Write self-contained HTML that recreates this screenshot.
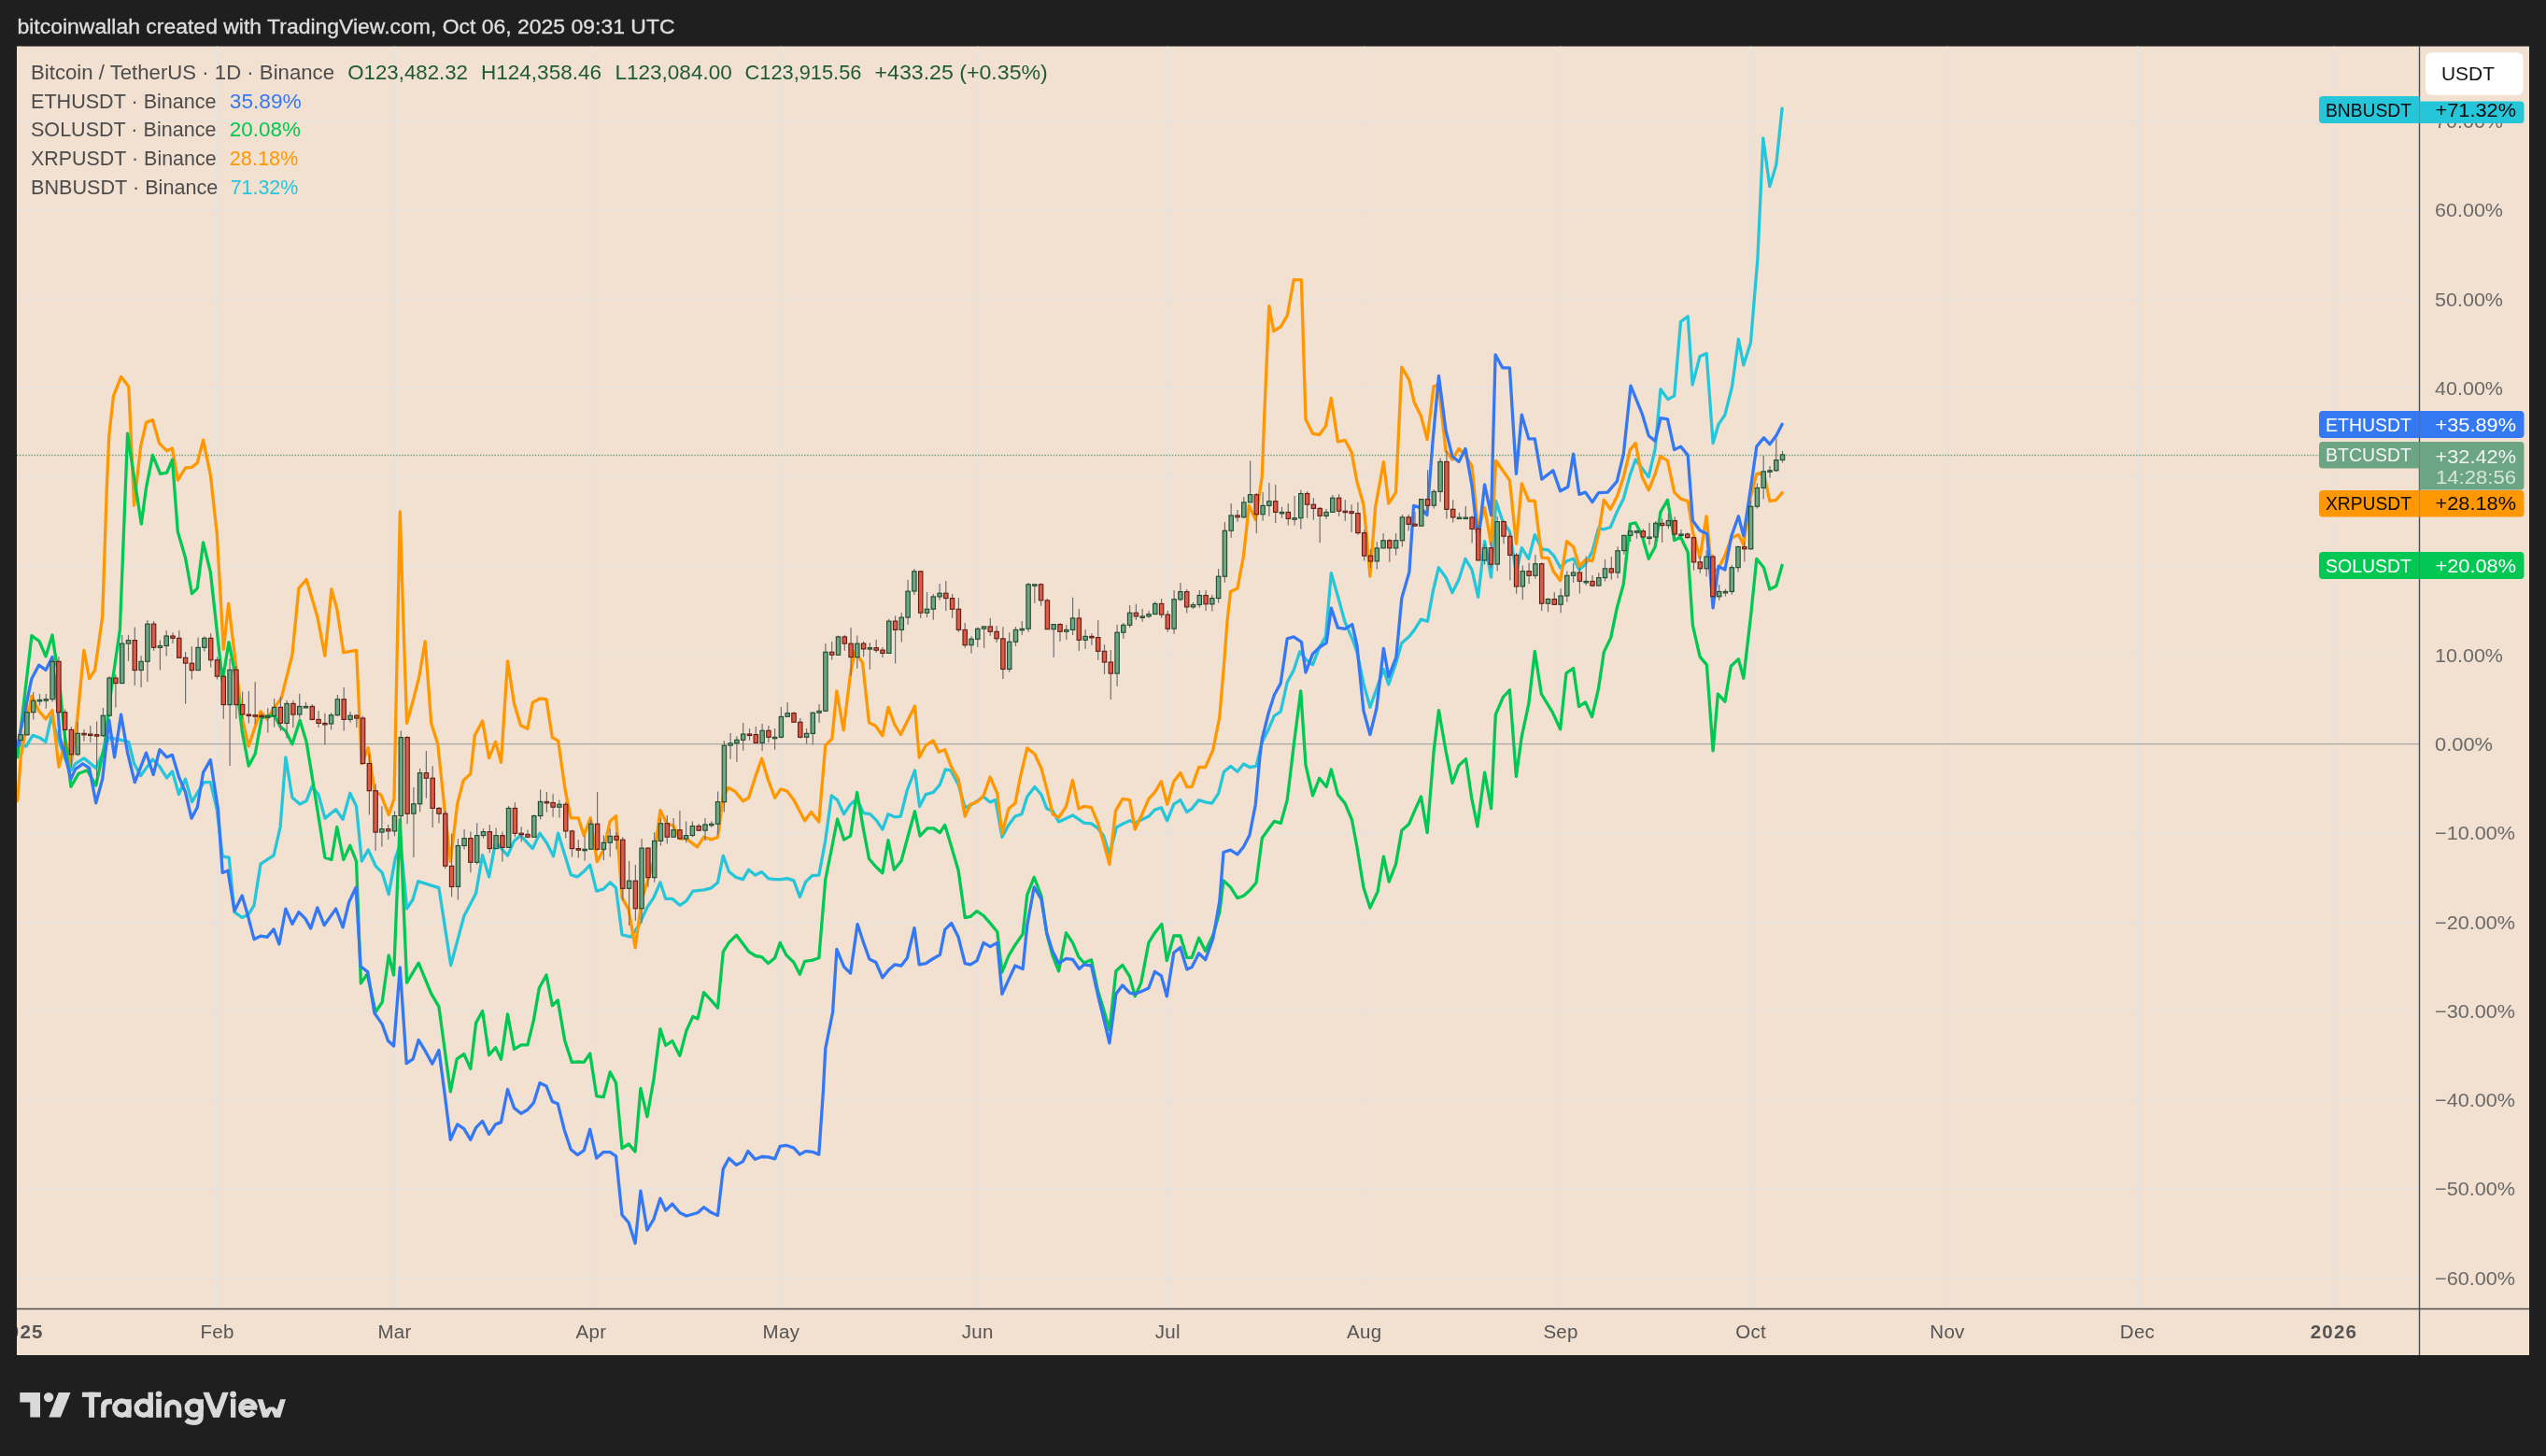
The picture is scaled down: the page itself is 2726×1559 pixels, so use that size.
<!DOCTYPE html><html><head><meta charset="utf-8"><style>
html,body{margin:0;padding:0;background:#1f1f1f;}
body{width:2726px;height:1559px;overflow:hidden;position:relative;font-family:"Liberation Sans", sans-serif;}
svg{position:absolute;left:0;top:0;will-change:transform;}
</style></head><body>
<svg width="2726" height="1559" viewBox="0 0 2726 1559" font-family='"Liberation Sans", sans-serif'>
<rect x="0" y="0" width="2726" height="1559" fill="#1f1f1f"/>
<text x="18.5" y="36.2" font-size="22.7" fill="#dedede" stroke="#dedede" stroke-width="0.35" textLength="704" lengthAdjust="spacingAndGlyphs">bitcoinwallah created with TradingView.com, Oct 06, 2025 09:31 UTC</text>
<rect x="18" y="49.6" width="2690" height="1401.4" fill="#f2e0d0"/>
<defs><clipPath id="cp"><rect x="18" y="49" width="2572.5" height="1352.5"/></clipPath><clipPath id="cpx"><rect x="18" y="1401" width="2572.5" height="50"/></clipPath></defs>
<g stroke="#e4e3e1" stroke-width="1.1" clip-path="url(#cp)"><line x1="21.4" y1="49.6" x2="21.4" y2="1401.5" /><line x1="232.5" y1="49.6" x2="232.5" y2="1401.5" /><line x1="422.5" y1="49.6" x2="422.5" y2="1401.5" /><line x1="632.9" y1="49.6" x2="632.9" y2="1401.5" /><line x1="836.4" y1="49.6" x2="836.4" y2="1401.5" /><line x1="1046.8" y1="49.6" x2="1046.8" y2="1401.5" /><line x1="1250.3" y1="49.6" x2="1250.3" y2="1401.5" /><line x1="1460.7" y1="49.6" x2="1460.7" y2="1401.5" /><line x1="1671.1" y1="49.6" x2="1671.1" y2="1401.5" /><line x1="1874.6" y1="49.6" x2="1874.6" y2="1401.5" /><line x1="2085.0" y1="49.6" x2="2085.0" y2="1401.5" /><line x1="2288.5" y1="49.6" x2="2288.5" y2="1401.5" /><line x1="2498.9" y1="49.6" x2="2498.9" y2="1401.5" /><line x1="18" y1="1368.4" x2="2590.5" y2="1368.4" /><line x1="18" y1="1273.1" x2="2590.5" y2="1273.1" /><line x1="18" y1="1177.8" x2="2590.5" y2="1177.8" /><line x1="18" y1="1082.5" x2="2590.5" y2="1082.5" /><line x1="18" y1="987.2" x2="2590.5" y2="987.2" /><line x1="18" y1="891.9" x2="2590.5" y2="891.9" /><line x1="18" y1="701.3" x2="2590.5" y2="701.3" /><line x1="18" y1="606.0" x2="2590.5" y2="606.0" /><line x1="18" y1="510.7" x2="2590.5" y2="510.7" /><line x1="18" y1="415.4" x2="2590.5" y2="415.4" /><line x1="18" y1="320.1" x2="2590.5" y2="320.1" /><line x1="18" y1="224.8" x2="2590.5" y2="224.8" /><line x1="18" y1="129.5" x2="2590.5" y2="129.5" /></g>
<line x1="18" y1="796.6" x2="2590.5" y2="796.6" stroke="#a9a6a3" stroke-width="1.3"/>
<line x1="18" y1="487.4" x2="2590.5" y2="487.4" stroke="#5f9c76" stroke-width="1.5" stroke-dasharray="1.3 1.8"/>
<g clip-path="url(#cp)">
<polyline points="18.7,796.8 28.0,799.1 35.0,787.4 42.0,789.7 49.0,794.4 54.9,767.6 64.2,796.8 70.1,813.1 75.9,824.8 80.6,817.8 89.9,811.9 102.7,822.4 109.7,807.3 116.8,789.7 137.8,794.4 143.6,817.8 150.6,830.6 163.5,813.1 170.5,820.1 178.6,832.9 184.5,825.9 191.5,850.5 198.5,834.1 205.5,858.6 218.3,837.6 225.3,837.6 232.3,866.8 238.2,917.0 245.2,918.2 251.0,976.6 259.2,982.4 266.2,978.9 272.0,969.6 279.0,925.2 293.1,915.8 300.1,885.5 305.9,810.8 312.9,854.0 321.1,861.0 328.1,857.5 333.9,842.3 340.9,850.5 347.9,876.1 359.6,866.8 367.1,877.3 374.8,849.3 381.5,863.2 387.3,922.1 394.3,909.9 402.2,927.3 409.2,934.3 416.2,957.6 423.2,919.1 429.0,902.7 435.6,972.8 441.9,963.5 447.7,943.6 469.9,950.6 482.7,1033.5 496.8,981.0 509.6,956.5 516.6,915.6 523.6,938.9 530.6,901.6 543.5,916.1 550.5,900.4 557.5,894.6 570.3,908.6 578.0,892.2 585.5,902.7 592.5,916.8 597.6,892.2 611.2,936.6 618.2,938.9 625.2,933.1 631.7,926.1 638.7,954.1 646.2,951.8 653.2,944.8 659.5,950.6 666.0,1000.8 675.4,1003.2 683.6,991.5 692.9,971.6 699.9,961.1 706.9,944.8 712.7,962.3 719.8,962.3 727.9,969.3 734.9,964.6 741.9,954.1 753.6,952.9 761.5,950.8 768.5,945.0 774.3,916.4 780.5,933.3 788.0,939.4 795.5,941.7 801.6,931.2 808.6,937.1 815.6,933.6 822.6,940.6 829.6,941.7 835.9,941.7 842.9,940.6 849.9,942.9 856.4,960.4 862.7,944.1 869.7,937.5 876.8,937.1 883.8,899.7 890.3,851.9 896.6,856.6 903.6,871.7 910.6,861.2 917.6,855.4 924.6,870.6 931.6,871.7 938.6,878.7 944.9,888.1 951.0,871.7 958.0,874.8 964.3,874.1 971.3,846.0 979.5,825.0 984.6,863.6 991.2,850.7 999.3,848.4 1006.4,840.2 1012.2,823.9 1018.0,825.0 1026.2,840.2 1033.2,864.7 1039.0,862.4 1053.1,853.1 1060.1,858.9 1065.9,856.6 1072.9,896.3 1079.9,883.4 1086.9,874.1 1093.9,871.7 1099.8,853.1 1107.9,842.5 1114.9,850.7 1120.8,865.9 1127.1,868.2 1133.6,879.9 1141.2,876.4 1148.5,872.9 1160.7,881.1 1168.5,881.8 1175.5,886.9 1181.6,895.0 1187.9,914.9 1195.5,885.7 1201.9,882.2 1209.6,878.7 1215.2,881.1 1222.9,877.6 1229.9,874.1 1236.4,867.1 1243.4,864.7 1249.7,878.7 1256.8,861.2 1263.8,856.6 1270.8,869.4 1276.1,865.9 1283.6,856.6 1290.6,858.9 1297.6,860.1 1304.6,849.6 1310.5,826.2 1317.9,820.4 1324.9,826.2 1331.5,818.0 1338.0,821.5 1345.0,820.4 1351.3,794.7 1358.3,780.7 1364.2,766.7 1371.2,762.0 1378.2,730.5 1385.2,717.6 1391.7,697.8 1398.0,705.9 1405.5,711.8 1412.7,693.1 1419.5,681.4 1425.3,613.7 1432.4,638.2 1440.1,666.2 1447.8,683.8 1452.9,697.8 1459.9,731.6 1466.9,757.3 1473.9,737.5 1481.4,716.5 1486.8,732.8 1494.9,709.4 1500.8,688.4 1508.9,681.4 1514.1,674.9 1521.5,663.2 1528.5,665.2 1534.0,634.5 1540.3,607.8 1548.0,618.2 1555.0,634.5 1562.0,620.5 1569.0,598.3 1576.0,610.0 1582.6,639.2 1589.6,579.6 1596.6,618.2 1601.7,536.5 1608.7,557.5 1616.4,569.1 1623.4,613.5 1629.3,586.7 1636.8,598.3 1643.3,572.6 1650.8,587.8 1657.8,589.0 1663.6,594.8 1670.6,607.7 1677.6,600.7 1684.6,598.3 1690.9,610.0 1697.5,604.2 1704.9,590.2 1711.5,565.6 1717.3,566.8 1724.3,564.5 1731.3,548.1 1738.3,534.1 1745.3,508.4 1751.2,492.1 1758.2,501.4 1765.2,510.8 1772.2,480.4 1778.0,416.6 1785.8,427.6 1792.7,423.9 1799.5,344.5 1807.2,338.7 1812.1,411.9 1820.1,381.5 1827.1,378.4 1834.1,474.6 1839.9,454.7 1846.9,444.2 1854.5,414.2 1861.4,363.2 1866.8,390.9 1874.5,366.7 1878.4,318.8 1881.9,276.8 1887.8,147.9 1894.8,199.7 1901.8,176.4 1908.1,116.2" fill="none" stroke="#26c6da" stroke-width="3.3" stroke-linejoin="round" stroke-linecap="round"/>
<polyline points="18.7,857.5 22.2,810.8 33.9,745.4 42.0,761.7 49.0,769.9 56.0,760.6 63.0,821.3 70.1,792.1 75.9,820.1 82.9,768.7 89.9,696.4 95.7,726.7 101.6,717.4 109.7,660.2 114.4,520.1 116.8,466.4 121.4,424.4 129.6,403.4 137.8,413.9 143.6,541.1 150.6,478.1 156.5,452.4 163.5,449.6 170.5,474.6 178.6,482.7 184.5,479.9 190.3,514.3 198.5,501.0 205.5,500.3 211.3,495.6 217.6,471.1 225.3,508.4 232.3,571.5 239.3,695.2 244.7,646.2 259.2,768.7 266.2,799.1 273.2,778.1 279.0,761.7 286.0,769.9 294.2,757.1 301.2,747.7 312.9,701.0 319.9,629.9 328.1,620.5 339.8,660.2 347.9,702.2 354.9,631.0 360.8,652.0 367.8,698.7 381.6,696.3 387.2,817.6 394.3,800.7 401.0,846.7 408.0,851.4 416.2,872.4 422.0,854.9 428.3,547.9 431.8,663.5 435.6,774.4 443.0,747.5 448.9,724.2 455.2,686.8 461.7,774.4 468.7,796.6 475.7,863.0 482.3,922.6 489.7,860.7 496.2,835.6 503.8,828.6 508.4,787.2 516.6,772.0 523.6,811.7 530.6,794.2 536.5,816.4 543.5,707.8 550.5,753.4 557.5,776.7 564.9,780.2 570.3,752.2 578.0,748.0 585.0,748.7 591.3,789.6 597.6,793.1 605.3,846.7 611.2,875.9 619.3,875.9 625.2,894.6 632.2,875.9 639.2,922.6 646.2,909.7 653.2,879.4 659.5,873.6 666.0,961.1 673.1,974.0 680.1,1014.8 687.1,963.5 692.9,944.8 699.9,921.4 706.9,867.7 713.9,881.7 720.9,884.1 727.9,898.1 734.9,898.1 746.6,906.9 753.6,896.2 761.5,898.9 768.5,896.6 774.3,852.8 779.9,843.5 786.9,847.2 795.5,857.7 801.6,854.2 809.0,830.9 815.6,812.2 821.9,833.2 829.6,854.2 835.9,844.9 842.9,847.2 849.9,856.6 861.6,878.7 868.6,869.4 876.8,879.9 883.8,798.2 890.8,791.2 895.9,739.8 903.1,781.8 910.6,721.1 915.3,697.8 923.5,709.4 930.5,773.7 937.5,777.2 944.9,787.7 951.0,757.3 958.0,776.0 964.3,786.5 979.5,756.1 984.2,811.0 991.2,798.2 999.3,793.0 1005.2,805.2 1011.7,802.8 1018.7,821.5 1026.2,834.4 1033.2,874.1 1039.0,861.2 1046.0,858.9 1053.1,851.9 1060.1,832.0 1067.8,849.6 1072.9,892.7 1079.9,865.9 1086.9,860.1 1092.7,830.9 1099.8,801.0 1107.9,807.5 1114.9,822.7 1120.8,844.9 1127.1,871.7 1133.6,875.2 1141.5,863.6 1148.5,835.5 1154.9,865.9 1160.7,863.3 1168.5,864.7 1175.5,881.1 1181.6,902.0 1187.9,925.4 1194.5,868.2 1201.9,855.4 1209.6,856.6 1215.2,888.1 1222.9,871.7 1229.9,855.4 1236.4,848.4 1243.4,836.7 1249.7,861.2 1256.8,836.7 1263.8,827.4 1270.8,842.5 1276.1,842.5 1283.6,821.5 1290.6,821.5 1298.8,802.8 1305.8,767.8 1310.5,711.8 1314.0,665.1 1317.5,633.6 1324.9,630.1 1331.5,595.0 1337.3,541.4 1344.3,556.6 1351.3,509.9 1353.7,446.8 1358.8,327.7 1363.7,354.6 1371.2,349.9 1378.2,338.2 1385.2,299.7 1393.4,299.7 1398.0,449.1 1405.5,464.3 1412.7,465.5 1419.5,456.1 1425.3,426.3 1432.4,473.0 1440.1,471.3 1447.1,484.2 1452.9,515.7 1459.9,540.2 1463.4,575.2 1466.9,617.2 1472.7,542.5 1481.4,494.7 1486.8,539.0 1494.5,527.4 1500.8,393.1 1508.9,407.1 1514.1,430.5 1521.5,445.5 1528.1,470.6 1535.0,413.8 1540.3,411.7 1548.0,482.7 1555.0,492.1 1562.0,480.4 1569.0,487.4 1576.0,499.1 1582.6,568.0 1589.6,543.5 1596.6,583.2 1601.7,493.3 1616.4,514.3 1623.4,582.0 1629.3,517.8 1636.8,536.0 1643.3,536.5 1650.8,597.2 1657.8,597.6 1663.6,612.3 1670.6,621.7 1677.6,579.6 1684.6,585.5 1690.9,606.5 1697.5,599.5 1704.9,600.7 1711.5,571.5 1717.3,535.3 1724.3,545.3 1731.3,531.8 1738.3,510.8 1745.3,481.6 1751.2,474.6 1758.2,510.8 1765.2,524.8 1772.2,507.3 1778.0,488.6 1785.5,493.3 1792.7,527.1 1799.5,534.1 1807.2,536.5 1812.4,569.1 1820.1,597.2 1827.1,552.8 1832.9,613.5 1839.9,608.8 1846.9,594.8 1853.9,576.1 1861.4,572.6 1866.8,583.2 1874.5,531.8 1880.8,507.3 1888.5,506.1 1894.8,536.5 1901.8,535.3 1908.1,527.6" fill="none" stroke="#ff9800" stroke-width="3.3" stroke-linejoin="round" stroke-linecap="round"/>
<polyline points="18.7,810.8 33.9,680.6 42.0,686.5 49.0,702.8 56.0,680.0 63.0,726.7 70.1,794.4 75.9,842.3 84.1,828.3 93.4,824.8 102.7,841.1 112.1,796.8 119.1,738.4 128.4,674.2 136.6,464.1 138.9,480.4 151.3,561.0 156.5,522.4 163.5,487.4 171.6,507.3 178.6,506.1 184.5,492.1 190.3,569.1 198.5,597.2 205.5,635.7 211.3,629.9 217.6,580.8 225.3,612.3 238.2,729.0 245.0,687.6 252.2,724.4 259.2,782.7 266.2,820.1 273.2,807.3 280.2,768.7 287.2,766.4 294.2,766.4 300.1,778.1 305.9,782.7 312.9,796.8 321.1,771.1 328.1,794.4 332.7,822.4 340.9,873.8 347.9,918.2 354.9,920.5 360.8,885.5 367.8,920.5 374.8,905.3 381.5,922.1 386.4,1052.9 393.2,1042.9 402.2,1083.7 409.2,1073.2 416.2,1023.0 421.6,1044.0 428.3,877.1 435.6,1052.2 441.9,1041.7 448.2,1031.2 461.7,1063.9 469.9,1077.9 482.3,1168.9 489.2,1133.9 496.8,1128.6 503.8,1144.4 509.6,1095.4 516.6,1082.5 523.6,1129.8 530.6,1121.6 536.5,1134.2 543.5,1086.0 550.5,1123.4 558.1,1118.9 564.9,1118.9 571.5,1091.9 577.3,1058.0 585.0,1044.0 591.3,1076.7 597.2,1070.9 604.8,1114.6 612.3,1137.4 619.3,1136.8 625.2,1137.4 631.7,1128.1 638.7,1173.6 646.2,1174.7 653.2,1147.9 659.5,1159.5 666.0,1229.6 673.1,1224.9 680.1,1233.1 685.9,1165.4 692.9,1195.7 699.9,1156.0 706.9,1101.8 712.7,1119.3 719.8,1114.6 727.9,1130.4 734.9,1103.6 741.9,1088.4 747.1,1090.7 753.6,1062.7 761.5,1071.1 768.5,1079.3 774.3,1019.1 780.5,1009.2 788.5,1001.3 801.6,1018.8 809.0,1023.5 815.6,1024.6 822.6,1031.6 829.6,1025.8 835.2,1009.4 841.7,1022.3 849.9,1030.5 856.4,1043.3 861.6,1029.3 869.7,1028.1 876.8,1025.8 883.8,941.7 890.8,906.7 896.6,877.0 903.6,899.1 910.6,895.1 917.6,848.4 924.6,888.6 930.5,919.5 937.5,927.7 944.9,934.7 951.0,899.7 957.3,931.2 965.0,921.9 971.3,898.5 979.5,868.8 985.0,895.1 992.9,886.9 999.9,886.9 1006.4,891.6 1011.7,883.4 1018.7,906.7 1026.2,932.4 1033.2,982.6 1039.0,981.4 1046.0,975.6 1053.1,980.3 1060.1,988.4 1067.8,997.8 1072.9,1041.0 1079.9,1023.5 1086.9,1011.8 1095.1,1000.1 1099.8,958.1 1107.2,939.4 1114.9,959.2 1120.8,1000.1 1127.1,1023.5 1133.6,1039.8 1141.5,998.9 1148.5,1009.4 1154.9,1024.6 1160.7,1031.0 1168.5,1027.7 1175.5,1060.8 1181.6,1080.7 1187.9,1102.8 1194.9,1039.8 1201.9,1033.3 1209.6,1045.6 1215.2,1066.7 1221.7,1052.6 1229.9,1009.4 1236.4,998.9 1243.9,989.6 1249.3,1028.6 1256.8,1002.0 1263.8,1002.0 1270.8,1025.3 1276.1,1025.3 1283.6,1004.3 1290.6,1018.3 1298.8,1001.3 1305.8,976.8 1310.0,942.9 1317.5,949.9 1324.9,961.6 1331.5,959.2 1338.0,953.4 1345.0,945.2 1351.3,897.4 1358.3,887.5 1364.4,879.3 1371.4,881.3 1378.2,856.6 1385.2,798.2 1392.7,739.8 1398.0,819.2 1405.5,851.9 1412.7,833.2 1420.2,842.5 1425.3,823.9 1432.4,850.7 1440.1,860.1 1447.4,877.5 1452.9,906.7 1459.9,949.9 1466.9,972.1 1475.1,954.6 1481.4,917.2 1487.2,944.1 1494.5,925.4 1500.8,889.2 1508.7,882.2 1514.1,869.4 1521.5,852.9 1528.1,891.5 1535.2,803.8 1540.5,760.6 1548.0,803.8 1555.0,838.3 1562.0,819.6 1569.5,812.6 1575.6,854.0 1581.9,885.0 1589.6,827.1 1596.6,865.6 1601.3,765.2 1609.4,746.5 1616.4,738.8 1623.4,831.3 1629.3,788.6 1636.8,753.6 1643.3,697.5 1650.3,743.0 1662.4,762.9 1670.6,780.9 1676.9,720.9 1684.6,715.5 1690.5,756.6 1697.5,751.9 1704.5,767.6 1711.5,737.2 1717.3,698.1 1724.7,682.9 1731.3,650.9 1738.3,625.2 1745.3,561.0 1751.2,559.8 1758.2,573.8 1765.2,598.3 1772.2,585.5 1778.0,548.1 1785.5,535.3 1792.7,578.5 1799.5,575.0 1807.2,591.3 1812.4,669.6 1820.1,703.1 1827.4,711.9 1834.1,803.8 1839.4,743.0 1846.9,751.2 1853.3,713.3 1861.4,705.7 1866.8,726.2 1874.5,660.2 1880.8,598.3 1888.5,607.7 1894.8,631.0 1901.8,627.5 1908.1,605.3" fill="none" stroke="#00c853" stroke-width="3.3" stroke-linejoin="round" stroke-linecap="round"/>
<polyline points="18.7,799.1 33.9,726.7 41.6,712.2 49.0,717.4 56.0,703.4 61.2,750.1 64.2,789.7 70.1,810.8 75.9,834.1 80.6,823.6 88.7,817.8 95.7,822.4 102.7,859.8 109.7,834.1 116.8,771.1 122.6,810.8 129.6,765.2 136.6,806.1 144.3,837.6 156.5,806.1 164.2,829.4 170.9,802.6 178.6,810.8 184.5,808.4 191.5,831.8 198.5,848.1 205.0,876.1 211.3,864.5 217.6,827.1 225.3,813.6 233.5,866.8 238.2,934.5 244.0,932.2 251.0,975.4 259.2,959.0 265.0,978.9 272.0,1005.7 279.0,1002.2 286.0,1003.4 293.1,994.9 298.9,1011.0 305.9,973.1 312.9,989.4 319.9,976.6 326.9,983.6 332.7,994.1 339.8,971.9 347.2,990.6 359.6,973.1 367.1,992.9 373.6,966.0 381.1,950.2 386.1,1034.8 393.7,1040.6 401.0,1084.9 409.2,1096.6 415.6,1114.6 421.6,1119.9 428.3,1035.8 435.2,1138.6 442.2,1133.9 448.2,1113.5 455.5,1125.7 462.9,1139.1 469.9,1124.5 475.7,1167.7 482.3,1220.3 489.7,1203.9 496.8,1208.6 503.8,1220.3 509.6,1207.4 516.6,1200.4 523.6,1214.4 530.6,1203.9 536.5,1201.6 543.5,1166.5 550.5,1186.4 557.9,1192.2 564.9,1188.3 571.5,1180.6 578.0,1159.5 585.0,1163.0 591.3,1179.4 597.2,1181.7 604.2,1209.7 611.2,1230.8 618.2,1236.6 625.2,1231.9 631.7,1209.3 638.7,1240.1 646.2,1233.6 653.2,1233.6 659.5,1237.8 666.0,1300.8 673.1,1309.0 680.1,1331.2 685.9,1275.1 692.9,1317.2 699.9,1305.5 706.9,1283.3 712.7,1296.1 719.8,1289.1 727.9,1298.5 734.9,1302.0 747.1,1298.5 753.6,1292.6 761.5,1298.3 768.5,1301.4 774.3,1251.6 780.5,1240.2 788.5,1247.4 795.5,1243.6 800.9,1232.6 808.6,1241.3 815.6,1238.5 822.6,1238.9 829.6,1240.8 835.2,1227.3 841.7,1226.3 849.9,1229.1 856.4,1236.1 862.7,1232.6 869.7,1233.3 876.8,1236.1 881.4,1168.4 883.8,1122.8 891.6,1083.7 895.9,1016.5 903.6,1035.1 910.6,1042.1 918.1,989.6 924.6,1009.4 930.9,1027.0 937.9,1030.5 944.9,1046.8 951.5,1038.6 958.0,1032.8 965.0,1034.0 971.3,1025.8 979.0,993.6 984.2,1032.8 991.2,1031.6 998.2,1027.0 1006.4,1022.3 1011.7,995.4 1018.7,988.4 1026.2,1003.6 1033.2,1031.6 1039.0,1032.8 1046.0,1028.6 1053.1,1009.4 1060.1,1013.6 1067.8,1009.4 1072.9,1064.3 1079.9,1049.1 1086.9,1034.0 1095.1,1037.5 1099.8,990.8 1107.2,949.9 1114.9,962.7 1120.8,998.9 1127.1,1018.8 1133.6,1031.6 1141.5,1026.3 1148.5,1027.3 1155.5,1037.5 1160.7,1032.8 1168.5,1034.0 1175.5,1065.5 1181.6,1090.0 1187.9,1116.9 1194.9,1064.3 1201.9,1055.0 1209.6,1063.2 1215.2,1064.3 1222.9,1061.3 1229.9,1058.0 1236.4,1040.3 1243.4,1044.9 1249.3,1066.7 1256.8,1020.0 1263.8,1014.6 1270.8,1037.9 1276.1,1035.6 1283.6,1020.7 1290.6,1027.7 1298.8,1004.8 1305.8,965.1 1310.0,912.5 1317.5,910.2 1324.9,914.9 1331.5,906.7 1338.0,893.9 1344.3,861.2 1349.0,809.9 1351.3,791.2 1358.3,763.2 1364.2,744.5 1371.2,731.6 1378.2,683.8 1385.2,681.9 1393.4,687.3 1398.0,720.0 1405.5,700.1 1412.7,693.1 1420.2,688.4 1425.3,651.1 1432.4,672.1 1440.1,673.3 1447.8,668.6 1452.9,690.8 1459.9,760.8 1466.9,786.5 1473.9,758.5 1481.4,694.3 1486.8,724.6 1494.9,703.6 1500.8,640.6 1508.9,612.5 1513.6,541.4 1520.9,543.6 1527.9,551.5 1534.0,473.4 1540.5,402.5 1548.0,460.6 1555.0,488.6 1562.0,494.4 1569.0,480.4 1576.0,520.1 1582.6,580.8 1589.6,518.9 1596.6,551.6 1601.1,379.8 1608.7,393.8 1616.4,393.8 1623.4,507.3 1629.3,444.2 1636.8,469.9 1643.3,469.9 1650.8,513.1 1662.9,503.8 1670.6,525.9 1678.8,521.3 1684.6,486.2 1690.9,529.4 1697.5,527.1 1704.9,537.6 1711.5,527.6 1721.3,527.1 1731.3,515.4 1738.3,486.2 1746.0,413.1 1758.2,443.0 1765.2,466.4 1772.2,472.2 1778.0,447.7 1785.5,448.9 1792.7,481.6 1799.5,478.1 1807.2,487.4 1812.4,557.5 1820.1,568.0 1827.8,571.5 1834.1,650.9 1839.9,606.5 1846.9,610.0 1853.9,573.8 1861.4,552.8 1866.8,573.8 1874.5,522.4 1880.8,478.1 1888.5,468.7 1894.8,475.7 1901.8,466.4 1908.1,454.3" fill="none" stroke="#3478f5" stroke-width="3.3" stroke-linejoin="round" stroke-linecap="round"/>
<line x1="22.1" y1="780.3" x2="22.1" y2="796.7" stroke="#707070" stroke-width="1.2"/><rect x="19.9" y="786.7" width="4.4" height="6.0" fill="#6ea584" stroke="#1d4a2e" stroke-width="1.1"/><line x1="28.9" y1="753.5" x2="28.9" y2="787.4" stroke="#707070" stroke-width="1.2"/><rect x="26.7" y="762.7" width="4.4" height="24.1" fill="#6ea584" stroke="#1d4a2e" stroke-width="1.1"/><line x1="35.7" y1="741.1" x2="35.7" y2="770.5" stroke="#707070" stroke-width="1.2"/><rect x="33.5" y="750.3" width="4.4" height="12.4" fill="#6ea584" stroke="#1d4a2e" stroke-width="1.1"/><line x1="42.5" y1="743.1" x2="42.5" y2="755.5" stroke="#707070" stroke-width="1.2"/><rect x="40.3" y="749.4" width="4.4" height="1.5" fill="#6ea584" stroke="#1d4a2e" stroke-width="1.1"/><line x1="49.3" y1="743.1" x2="49.3" y2="758.7" stroke="#707070" stroke-width="1.2"/><rect x="47.1" y="748.7" width="4.4" height="1.5" fill="#6ea584" stroke="#1d4a2e" stroke-width="1.1"/><line x1="56.1" y1="704.6" x2="56.1" y2="751.6" stroke="#707070" stroke-width="1.2"/><rect x="53.9" y="708.3" width="4.4" height="40.4" fill="#6ea584" stroke="#1d4a2e" stroke-width="1.1"/><line x1="62.9" y1="703.3" x2="62.9" y2="769.2" stroke="#707070" stroke-width="1.2"/><rect x="60.7" y="708.3" width="4.4" height="54.4" fill="#dd5a45" stroke="#5e1c14" stroke-width="1.1"/><line x1="69.6" y1="759.4" x2="69.6" y2="806.4" stroke="#707070" stroke-width="1.2"/><rect x="67.4" y="762.7" width="4.4" height="18.7" fill="#dd5a45" stroke="#5e1c14" stroke-width="1.1"/><line x1="76.4" y1="778.3" x2="76.4" y2="821.4" stroke="#707070" stroke-width="1.2"/><rect x="74.2" y="781.4" width="4.4" height="26.4" fill="#dd5a45" stroke="#5e1c14" stroke-width="1.1"/><line x1="83.2" y1="773.1" x2="83.2" y2="809.6" stroke="#707070" stroke-width="1.2"/><rect x="81.0" y="785.3" width="4.4" height="22.4" fill="#6ea584" stroke="#1d4a2e" stroke-width="1.1"/><line x1="90.0" y1="780.9" x2="90.0" y2="793.7" stroke="#707070" stroke-width="1.2"/><rect x="87.8" y="785.3" width="4.4" height="1.5" fill="#dd5a45" stroke="#5e1c14" stroke-width="1.1"/><line x1="96.8" y1="777.0" x2="96.8" y2="795.0" stroke="#707070" stroke-width="1.2"/><rect x="94.6" y="786.0" width="4.4" height="1.5" fill="#dd5a45" stroke="#5e1c14" stroke-width="1.1"/><line x1="103.6" y1="772.4" x2="103.6" y2="839.6" stroke="#707070" stroke-width="1.2"/><rect x="101.4" y="786.7" width="4.4" height="1.5" fill="#dd5a45" stroke="#5e1c14" stroke-width="1.1"/><line x1="110.4" y1="758.1" x2="110.4" y2="788.7" stroke="#707070" stroke-width="1.2"/><rect x="108.2" y="766.2" width="4.4" height="21.5" fill="#6ea584" stroke="#1d4a2e" stroke-width="1.1"/><line x1="117.1" y1="724.1" x2="117.1" y2="767.2" stroke="#707070" stroke-width="1.2"/><rect x="114.9" y="726.0" width="4.4" height="40.2" fill="#6ea584" stroke="#1d4a2e" stroke-width="1.1"/><line x1="123.9" y1="722.2" x2="123.9" y2="757.4" stroke="#707070" stroke-width="1.2"/><rect x="121.7" y="726.0" width="4.4" height="5.6" fill="#dd5a45" stroke="#5e1c14" stroke-width="1.1"/><line x1="130.7" y1="680.1" x2="130.7" y2="731.6" stroke="#707070" stroke-width="1.2"/><rect x="128.5" y="689.1" width="4.4" height="42.5" fill="#6ea584" stroke="#1d4a2e" stroke-width="1.1"/><line x1="137.5" y1="679.8" x2="137.5" y2="707.8" stroke="#707070" stroke-width="1.2"/><rect x="135.3" y="685.6" width="4.4" height="3.5" fill="#6ea584" stroke="#1d4a2e" stroke-width="1.1"/><line x1="144.3" y1="671.6" x2="144.3" y2="733.9" stroke="#707070" stroke-width="1.2"/><rect x="142.1" y="685.6" width="4.4" height="32.0" fill="#dd5a45" stroke="#5e1c14" stroke-width="1.1"/><line x1="151.1" y1="702.3" x2="151.1" y2="735.9" stroke="#707070" stroke-width="1.2"/><rect x="148.9" y="708.3" width="4.4" height="9.3" fill="#6ea584" stroke="#1d4a2e" stroke-width="1.1"/><line x1="157.9" y1="664.1" x2="157.9" y2="730.0" stroke="#707070" stroke-width="1.2"/><rect x="155.7" y="668.1" width="4.4" height="40.2" fill="#6ea584" stroke="#1d4a2e" stroke-width="1.1"/><line x1="164.6" y1="665.1" x2="164.6" y2="696.7" stroke="#707070" stroke-width="1.2"/><rect x="162.4" y="668.1" width="4.4" height="25.2" fill="#dd5a45" stroke="#5e1c14" stroke-width="1.1"/><line x1="171.4" y1="685.5" x2="171.4" y2="717.6" stroke="#707070" stroke-width="1.2"/><rect x="169.2" y="691.5" width="4.4" height="1.9" fill="#6ea584" stroke="#1d4a2e" stroke-width="1.1"/><line x1="178.2" y1="675.0" x2="178.2" y2="702.6" stroke="#707070" stroke-width="1.2"/><rect x="176.0" y="681.0" width="4.4" height="10.5" fill="#6ea584" stroke="#1d4a2e" stroke-width="1.1"/><line x1="185.0" y1="677.2" x2="185.0" y2="688.9" stroke="#707070" stroke-width="1.2"/><rect x="182.8" y="681.0" width="4.4" height="2.3" fill="#dd5a45" stroke="#5e1c14" stroke-width="1.1"/><line x1="191.8" y1="675.2" x2="191.8" y2="704.6" stroke="#707070" stroke-width="1.2"/><rect x="189.6" y="683.3" width="4.4" height="21.0" fill="#dd5a45" stroke="#5e1c14" stroke-width="1.1"/><line x1="198.6" y1="698.1" x2="198.6" y2="753.5" stroke="#707070" stroke-width="1.2"/><rect x="196.4" y="704.3" width="4.4" height="5.8" fill="#dd5a45" stroke="#5e1c14" stroke-width="1.1"/><line x1="205.4" y1="692.2" x2="205.4" y2="727.4" stroke="#707070" stroke-width="1.2"/><rect x="203.2" y="710.2" width="4.4" height="7.5" fill="#dd5a45" stroke="#5e1c14" stroke-width="1.1"/><line x1="212.1" y1="682.4" x2="212.1" y2="717.6" stroke="#707070" stroke-width="1.2"/><rect x="209.9" y="693.3" width="4.4" height="24.3" fill="#6ea584" stroke="#1d4a2e" stroke-width="1.1"/><line x1="218.9" y1="681.3" x2="218.9" y2="697.4" stroke="#707070" stroke-width="1.2"/><rect x="216.7" y="683.3" width="4.4" height="10.0" fill="#6ea584" stroke="#1d4a2e" stroke-width="1.1"/><line x1="225.7" y1="678.3" x2="225.7" y2="714.4" stroke="#707070" stroke-width="1.2"/><rect x="223.5" y="683.3" width="4.4" height="23.4" fill="#dd5a45" stroke="#5e1c14" stroke-width="1.1"/><line x1="232.5" y1="703.3" x2="232.5" y2="727.4" stroke="#707070" stroke-width="1.2"/><rect x="230.3" y="706.7" width="4.4" height="17.5" fill="#dd5a45" stroke="#5e1c14" stroke-width="1.1"/><line x1="239.3" y1="716.3" x2="239.3" y2="769.8" stroke="#707070" stroke-width="1.2"/><rect x="237.1" y="724.2" width="4.4" height="30.4" fill="#dd5a45" stroke="#5e1c14" stroke-width="1.1"/><line x1="246.1" y1="705.2" x2="246.1" y2="820.1" stroke="#707070" stroke-width="1.2"/><rect x="243.9" y="717.2" width="4.4" height="37.4" fill="#6ea584" stroke="#1d4a2e" stroke-width="1.1"/><line x1="252.9" y1="713.1" x2="252.9" y2="769.8" stroke="#707070" stroke-width="1.2"/><rect x="250.7" y="717.2" width="4.4" height="37.4" fill="#dd5a45" stroke="#5e1c14" stroke-width="1.1"/><line x1="259.6" y1="740.5" x2="259.6" y2="769.8" stroke="#707070" stroke-width="1.2"/><rect x="257.4" y="754.5" width="4.4" height="10.5" fill="#dd5a45" stroke="#5e1c14" stroke-width="1.1"/><line x1="266.4" y1="740.1" x2="266.4" y2="774.6" stroke="#707070" stroke-width="1.2"/><rect x="264.2" y="765.0" width="4.4" height="1.5" fill="#dd5a45" stroke="#5e1c14" stroke-width="1.1"/><line x1="273.2" y1="730.3" x2="273.2" y2="775.2" stroke="#707070" stroke-width="1.2"/><rect x="271.0" y="765.7" width="4.4" height="1.5" fill="#dd5a45" stroke="#5e1c14" stroke-width="1.1"/><line x1="280.0" y1="763.5" x2="280.0" y2="775.2" stroke="#707070" stroke-width="1.2"/><rect x="277.8" y="766.2" width="4.4" height="1.5" fill="#dd5a45" stroke="#5e1c14" stroke-width="1.1"/><line x1="286.8" y1="758.3" x2="286.8" y2="784.4" stroke="#707070" stroke-width="1.2"/><rect x="284.6" y="766.7" width="4.4" height="1.5" fill="#6ea584" stroke="#1d4a2e" stroke-width="1.1"/><line x1="293.6" y1="747.9" x2="293.6" y2="778.5" stroke="#707070" stroke-width="1.2"/><rect x="291.4" y="757.3" width="4.4" height="9.3" fill="#6ea584" stroke="#1d4a2e" stroke-width="1.1"/><line x1="300.4" y1="745.9" x2="300.4" y2="782.4" stroke="#707070" stroke-width="1.2"/><rect x="298.2" y="757.3" width="4.4" height="17.0" fill="#dd5a45" stroke="#5e1c14" stroke-width="1.1"/><line x1="307.1" y1="749.8" x2="307.1" y2="790.2" stroke="#707070" stroke-width="1.2"/><rect x="304.9" y="753.4" width="4.4" height="21.0" fill="#6ea584" stroke="#1d4a2e" stroke-width="1.1"/><line x1="313.9" y1="749.8" x2="313.9" y2="779.1" stroke="#707070" stroke-width="1.2"/><rect x="311.7" y="753.4" width="4.4" height="11.7" fill="#dd5a45" stroke="#5e1c14" stroke-width="1.1"/><line x1="320.7" y1="742.7" x2="320.7" y2="768.7" stroke="#707070" stroke-width="1.2"/><rect x="318.5" y="756.4" width="4.4" height="8.6" fill="#6ea584" stroke="#1d4a2e" stroke-width="1.1"/><line x1="327.5" y1="751.8" x2="327.5" y2="758.3" stroke="#707070" stroke-width="1.2"/><rect x="325.3" y="756.4" width="4.4" height="1.5" fill="#6ea584" stroke="#1d4a2e" stroke-width="1.1"/><line x1="334.3" y1="754.1" x2="334.3" y2="771.3" stroke="#707070" stroke-width="1.2"/><rect x="332.1" y="756.4" width="4.4" height="14.0" fill="#dd5a45" stroke="#5e1c14" stroke-width="1.1"/><line x1="341.1" y1="760.9" x2="341.1" y2="779.1" stroke="#707070" stroke-width="1.2"/><rect x="338.9" y="770.4" width="4.4" height="4.0" fill="#dd5a45" stroke="#5e1c14" stroke-width="1.1"/><line x1="347.9" y1="763.8" x2="347.9" y2="797.4" stroke="#707070" stroke-width="1.2"/><rect x="345.7" y="774.4" width="4.4" height="1.5" fill="#dd5a45" stroke="#5e1c14" stroke-width="1.1"/><line x1="354.6" y1="762.9" x2="354.6" y2="781.5" stroke="#707070" stroke-width="1.2"/><rect x="352.4" y="765.7" width="4.4" height="9.3" fill="#6ea584" stroke="#1d4a2e" stroke-width="1.1"/><line x1="361.4" y1="744.0" x2="361.4" y2="766.7" stroke="#707070" stroke-width="1.2"/><rect x="359.2" y="748.7" width="4.4" height="17.0" fill="#6ea584" stroke="#1d4a2e" stroke-width="1.1"/><line x1="368.2" y1="736.1" x2="368.2" y2="782.4" stroke="#707070" stroke-width="1.2"/><rect x="366.0" y="748.7" width="4.4" height="21.7" fill="#dd5a45" stroke="#5e1c14" stroke-width="1.1"/><line x1="375.0" y1="762.0" x2="375.0" y2="773.7" stroke="#707070" stroke-width="1.2"/><rect x="372.8" y="766.2" width="4.4" height="4.2" fill="#6ea584" stroke="#1d4a2e" stroke-width="1.1"/><line x1="381.8" y1="764.8" x2="381.8" y2="779.1" stroke="#707070" stroke-width="1.2"/><rect x="379.6" y="766.2" width="4.4" height="2.8" fill="#dd5a45" stroke="#5e1c14" stroke-width="1.1"/><line x1="388.6" y1="766.8" x2="388.6" y2="818.3" stroke="#707070" stroke-width="1.2"/><rect x="386.4" y="769.0" width="4.4" height="48.5" fill="#dd5a45" stroke="#5e1c14" stroke-width="1.1"/><line x1="395.4" y1="807.2" x2="395.4" y2="872.4" stroke="#707070" stroke-width="1.2"/><rect x="393.2" y="817.5" width="4.4" height="29.2" fill="#dd5a45" stroke="#5e1c14" stroke-width="1.1"/><line x1="402.1" y1="839.2" x2="402.1" y2="910.9" stroke="#707070" stroke-width="1.2"/><rect x="399.9" y="846.7" width="4.4" height="44.4" fill="#dd5a45" stroke="#5e1c14" stroke-width="1.1"/><line x1="408.9" y1="863.3" x2="408.9" y2="906.4" stroke="#707070" stroke-width="1.2"/><rect x="406.7" y="887.6" width="4.4" height="3.5" fill="#6ea584" stroke="#1d4a2e" stroke-width="1.1"/><line x1="415.7" y1="882.9" x2="415.7" y2="898.9" stroke="#707070" stroke-width="1.2"/><rect x="413.5" y="887.6" width="4.4" height="2.3" fill="#dd5a45" stroke="#5e1c14" stroke-width="1.1"/><line x1="422.5" y1="868.5" x2="422.5" y2="895.3" stroke="#707070" stroke-width="1.2"/><rect x="420.3" y="873.6" width="4.4" height="16.3" fill="#6ea584" stroke="#1d4a2e" stroke-width="1.1"/><line x1="429.3" y1="782.4" x2="429.3" y2="882.2" stroke="#707070" stroke-width="1.2"/><rect x="427.1" y="789.6" width="4.4" height="84.0" fill="#6ea584" stroke="#1d4a2e" stroke-width="1.1"/><line x1="436.1" y1="788.3" x2="436.1" y2="882.2" stroke="#707070" stroke-width="1.2"/><rect x="433.9" y="789.6" width="4.4" height="81.7" fill="#dd5a45" stroke="#5e1c14" stroke-width="1.1"/><line x1="442.9" y1="843.1" x2="442.9" y2="918.1" stroke="#707070" stroke-width="1.2"/><rect x="440.7" y="860.7" width="4.4" height="10.5" fill="#6ea584" stroke="#1d4a2e" stroke-width="1.1"/><line x1="449.6" y1="822.9" x2="449.6" y2="869.2" stroke="#707070" stroke-width="1.2"/><rect x="447.4" y="827.6" width="4.4" height="33.2" fill="#6ea584" stroke="#1d4a2e" stroke-width="1.1"/><line x1="456.4" y1="803.9" x2="456.4" y2="854.8" stroke="#707070" stroke-width="1.2"/><rect x="454.2" y="827.6" width="4.4" height="5.6" fill="#dd5a45" stroke="#5e1c14" stroke-width="1.1"/><line x1="463.2" y1="820.2" x2="463.2" y2="886.1" stroke="#707070" stroke-width="1.2"/><rect x="461.0" y="833.2" width="4.4" height="32.2" fill="#dd5a45" stroke="#5e1c14" stroke-width="1.1"/><line x1="470.0" y1="864.0" x2="470.0" y2="881.6" stroke="#707070" stroke-width="1.2"/><rect x="467.8" y="865.4" width="4.4" height="5.8" fill="#dd5a45" stroke="#5e1c14" stroke-width="1.1"/><line x1="476.8" y1="868.5" x2="476.8" y2="930.3" stroke="#707070" stroke-width="1.2"/><rect x="474.6" y="871.2" width="4.4" height="56.0" fill="#dd5a45" stroke="#5e1c14" stroke-width="1.1"/><line x1="483.6" y1="892.7" x2="483.6" y2="960.4" stroke="#707070" stroke-width="1.2"/><rect x="481.4" y="927.3" width="4.4" height="22.2" fill="#dd5a45" stroke="#5e1c14" stroke-width="1.1"/><line x1="490.4" y1="897.9" x2="490.4" y2="963.4" stroke="#707070" stroke-width="1.2"/><rect x="488.2" y="905.5" width="4.4" height="43.9" fill="#6ea584" stroke="#1d4a2e" stroke-width="1.1"/><line x1="497.1" y1="888.1" x2="497.1" y2="909.5" stroke="#707070" stroke-width="1.2"/><rect x="494.9" y="897.6" width="4.4" height="7.9" fill="#6ea584" stroke="#1d4a2e" stroke-width="1.1"/><line x1="503.9" y1="890.5" x2="503.9" y2="934.2" stroke="#707070" stroke-width="1.2"/><rect x="501.7" y="897.6" width="4.4" height="25.7" fill="#dd5a45" stroke="#5e1c14" stroke-width="1.1"/><line x1="510.7" y1="881.3" x2="510.7" y2="925.7" stroke="#707070" stroke-width="1.2"/><rect x="508.5" y="894.6" width="4.4" height="28.7" fill="#6ea584" stroke="#1d4a2e" stroke-width="1.1"/><line x1="517.5" y1="887.2" x2="517.5" y2="897.6" stroke="#707070" stroke-width="1.2"/><rect x="515.3" y="890.6" width="4.4" height="4.0" fill="#6ea584" stroke="#1d4a2e" stroke-width="1.1"/><line x1="524.3" y1="883.3" x2="524.3" y2="913.3" stroke="#707070" stroke-width="1.2"/><rect x="522.1" y="890.6" width="4.4" height="18.0" fill="#dd5a45" stroke="#5e1c14" stroke-width="1.1"/><line x1="531.1" y1="886.6" x2="531.1" y2="908.6" stroke="#707070" stroke-width="1.2"/><rect x="528.9" y="894.6" width="4.4" height="14.0" fill="#6ea584" stroke="#1d4a2e" stroke-width="1.1"/><line x1="537.9" y1="890.6" x2="537.9" y2="922.4" stroke="#707070" stroke-width="1.2"/><rect x="535.7" y="894.6" width="4.4" height="12.8" fill="#dd5a45" stroke="#5e1c14" stroke-width="1.1"/><line x1="544.6" y1="863.1" x2="544.6" y2="907.4" stroke="#707070" stroke-width="1.2"/><rect x="542.4" y="865.4" width="4.4" height="42.0" fill="#6ea584" stroke="#1d4a2e" stroke-width="1.1"/><line x1="551.4" y1="859.2" x2="551.4" y2="896.3" stroke="#707070" stroke-width="1.2"/><rect x="549.2" y="865.4" width="4.4" height="26.9" fill="#dd5a45" stroke="#5e1c14" stroke-width="1.1"/><line x1="558.2" y1="885.3" x2="558.2" y2="901.6" stroke="#707070" stroke-width="1.2"/><rect x="556.0" y="892.2" width="4.4" height="1.5" fill="#dd5a45" stroke="#5e1c14" stroke-width="1.1"/><line x1="565.0" y1="888.5" x2="565.0" y2="897.6" stroke="#707070" stroke-width="1.2"/><rect x="562.8" y="893.4" width="4.4" height="2.8" fill="#dd5a45" stroke="#5e1c14" stroke-width="1.1"/><line x1="571.8" y1="872.2" x2="571.8" y2="896.3" stroke="#707070" stroke-width="1.2"/><rect x="569.6" y="873.6" width="4.4" height="22.7" fill="#6ea584" stroke="#1d4a2e" stroke-width="1.1"/><line x1="578.6" y1="845.5" x2="578.6" y2="877.4" stroke="#707070" stroke-width="1.2"/><rect x="576.4" y="858.4" width="4.4" height="15.2" fill="#6ea584" stroke="#1d4a2e" stroke-width="1.1"/><line x1="585.4" y1="848.1" x2="585.4" y2="869.6" stroke="#707070" stroke-width="1.2"/><rect x="583.2" y="858.4" width="4.4" height="1.5" fill="#dd5a45" stroke="#5e1c14" stroke-width="1.1"/><line x1="592.1" y1="850.3" x2="592.1" y2="874.8" stroke="#707070" stroke-width="1.2"/><rect x="589.9" y="859.5" width="4.4" height="4.7" fill="#dd5a45" stroke="#5e1c14" stroke-width="1.1"/><line x1="598.9" y1="856.5" x2="598.9" y2="875.5" stroke="#707070" stroke-width="1.2"/><rect x="596.7" y="861.2" width="4.4" height="3.0" fill="#6ea584" stroke="#1d4a2e" stroke-width="1.1"/><line x1="605.7" y1="858.5" x2="605.7" y2="897.6" stroke="#707070" stroke-width="1.2"/><rect x="603.5" y="861.2" width="4.4" height="28.7" fill="#dd5a45" stroke="#5e1c14" stroke-width="1.1"/><line x1="612.5" y1="888.5" x2="612.5" y2="917.6" stroke="#707070" stroke-width="1.2"/><rect x="610.3" y="889.9" width="4.4" height="18.7" fill="#dd5a45" stroke="#5e1c14" stroke-width="1.1"/><line x1="619.3" y1="899.3" x2="619.3" y2="918.5" stroke="#707070" stroke-width="1.2"/><rect x="617.1" y="908.6" width="4.4" height="1.6" fill="#dd5a45" stroke="#5e1c14" stroke-width="1.1"/><line x1="626.1" y1="894.4" x2="626.1" y2="921.8" stroke="#707070" stroke-width="1.2"/><rect x="623.9" y="909.3" width="4.4" height="1.5" fill="#6ea584" stroke="#1d4a2e" stroke-width="1.1"/><line x1="632.9" y1="878.1" x2="632.9" y2="909.4" stroke="#707070" stroke-width="1.2"/><rect x="630.7" y="882.2" width="4.4" height="27.1" fill="#6ea584" stroke="#1d4a2e" stroke-width="1.1"/><line x1="639.6" y1="848.1" x2="639.6" y2="910.7" stroke="#707070" stroke-width="1.2"/><rect x="637.4" y="882.2" width="4.4" height="27.1" fill="#dd5a45" stroke="#5e1c14" stroke-width="1.1"/><line x1="646.4" y1="894.4" x2="646.4" y2="921.1" stroke="#707070" stroke-width="1.2"/><rect x="644.2" y="902.3" width="4.4" height="7.0" fill="#6ea584" stroke="#1d4a2e" stroke-width="1.1"/><line x1="653.2" y1="887.2" x2="653.2" y2="917.6" stroke="#707070" stroke-width="1.2"/><rect x="651.0" y="895.3" width="4.4" height="7.0" fill="#6ea584" stroke="#1d4a2e" stroke-width="1.1"/><line x1="660.0" y1="891.1" x2="660.0" y2="909.4" stroke="#707070" stroke-width="1.2"/><rect x="657.8" y="895.3" width="4.4" height="4.0" fill="#dd5a45" stroke="#5e1c14" stroke-width="1.1"/><line x1="666.8" y1="896.3" x2="666.8" y2="963.8" stroke="#707070" stroke-width="1.2"/><rect x="664.6" y="899.2" width="4.4" height="52.1" fill="#dd5a45" stroke="#5e1c14" stroke-width="1.1"/><line x1="673.6" y1="922.1" x2="673.6" y2="991.0" stroke="#707070" stroke-width="1.2"/><rect x="671.4" y="943.1" width="4.4" height="8.2" fill="#6ea584" stroke="#1d4a2e" stroke-width="1.1"/><line x1="680.4" y1="926.0" x2="680.4" y2="986.0" stroke="#707070" stroke-width="1.2"/><rect x="678.2" y="943.1" width="4.4" height="29.7" fill="#dd5a45" stroke="#5e1c14" stroke-width="1.1"/><line x1="687.1" y1="898.3" x2="687.1" y2="988.4" stroke="#707070" stroke-width="1.2"/><rect x="684.9" y="908.1" width="4.4" height="64.7" fill="#6ea584" stroke="#1d4a2e" stroke-width="1.1"/><line x1="693.9" y1="907.4" x2="693.9" y2="949.6" stroke="#707070" stroke-width="1.2"/><rect x="691.7" y="908.1" width="4.4" height="31.5" fill="#dd5a45" stroke="#5e1c14" stroke-width="1.1"/><line x1="700.7" y1="891.1" x2="700.7" y2="944.7" stroke="#707070" stroke-width="1.2"/><rect x="698.5" y="900.4" width="4.4" height="39.2" fill="#6ea584" stroke="#1d4a2e" stroke-width="1.1"/><line x1="707.5" y1="875.5" x2="707.5" y2="905.5" stroke="#707070" stroke-width="1.2"/><rect x="705.3" y="881.7" width="4.4" height="18.7" fill="#6ea584" stroke="#1d4a2e" stroke-width="1.1"/><line x1="714.3" y1="872.9" x2="714.3" y2="903.5" stroke="#707070" stroke-width="1.2"/><rect x="712.1" y="881.7" width="4.4" height="14.5" fill="#dd5a45" stroke="#5e1c14" stroke-width="1.1"/><line x1="721.1" y1="876.1" x2="721.1" y2="896.3" stroke="#707070" stroke-width="1.2"/><rect x="718.9" y="888.7" width="4.4" height="7.5" fill="#6ea584" stroke="#1d4a2e" stroke-width="1.1"/><line x1="727.9" y1="868.3" x2="727.9" y2="898.3" stroke="#707070" stroke-width="1.2"/><rect x="725.7" y="888.7" width="4.4" height="9.3" fill="#dd5a45" stroke="#5e1c14" stroke-width="1.1"/><line x1="734.6" y1="879.4" x2="734.6" y2="902.2" stroke="#707070" stroke-width="1.2"/><rect x="732.4" y="894.6" width="4.4" height="3.5" fill="#6ea584" stroke="#1d4a2e" stroke-width="1.1"/><line x1="741.4" y1="879.4" x2="741.4" y2="896.3" stroke="#707070" stroke-width="1.2"/><rect x="739.2" y="884.5" width="4.4" height="10.0" fill="#6ea584" stroke="#1d4a2e" stroke-width="1.1"/><line x1="748.2" y1="882.0" x2="748.2" y2="889.8" stroke="#707070" stroke-width="1.2"/><rect x="746.0" y="884.5" width="4.4" height="4.7" fill="#dd5a45" stroke="#5e1c14" stroke-width="1.1"/><line x1="755.0" y1="875.9" x2="755.0" y2="900.2" stroke="#707070" stroke-width="1.2"/><rect x="752.8" y="882.9" width="4.4" height="6.3" fill="#6ea584" stroke="#1d4a2e" stroke-width="1.1"/><line x1="761.8" y1="879.2" x2="761.8" y2="885.9" stroke="#707070" stroke-width="1.2"/><rect x="759.6" y="882.2" width="4.4" height="1.5" fill="#6ea584" stroke="#1d4a2e" stroke-width="1.1"/><line x1="768.6" y1="847.6" x2="768.6" y2="893.2" stroke="#707070" stroke-width="1.2"/><rect x="766.4" y="858.6" width="4.4" height="23.6" fill="#6ea584" stroke="#1d4a2e" stroke-width="1.1"/><line x1="775.4" y1="793.3" x2="775.4" y2="869.6" stroke="#707070" stroke-width="1.2"/><rect x="773.2" y="798.2" width="4.4" height="60.5" fill="#6ea584" stroke="#1d4a2e" stroke-width="1.1"/><line x1="782.1" y1="784.9" x2="782.1" y2="812.8" stroke="#707070" stroke-width="1.2"/><rect x="779.9" y="795.8" width="4.4" height="2.3" fill="#6ea584" stroke="#1d4a2e" stroke-width="1.1"/><line x1="788.9" y1="788.3" x2="788.9" y2="815.8" stroke="#707070" stroke-width="1.2"/><rect x="786.7" y="792.3" width="4.4" height="3.5" fill="#6ea584" stroke="#1d4a2e" stroke-width="1.1"/><line x1="795.7" y1="774.1" x2="795.7" y2="803.8" stroke="#707070" stroke-width="1.2"/><rect x="793.5" y="786.0" width="4.4" height="6.3" fill="#6ea584" stroke="#1d4a2e" stroke-width="1.1"/><line x1="802.5" y1="779.9" x2="802.5" y2="792.7" stroke="#707070" stroke-width="1.2"/><rect x="800.3" y="786.0" width="4.4" height="1.5" fill="#dd5a45" stroke="#5e1c14" stroke-width="1.1"/><line x1="809.3" y1="778.0" x2="809.3" y2="795.7" stroke="#707070" stroke-width="1.2"/><rect x="807.1" y="786.5" width="4.4" height="8.9" fill="#dd5a45" stroke="#5e1c14" stroke-width="1.1"/><line x1="816.1" y1="775.0" x2="816.1" y2="803.8" stroke="#707070" stroke-width="1.2"/><rect x="813.9" y="782.3" width="4.4" height="13.1" fill="#6ea584" stroke="#1d4a2e" stroke-width="1.1"/><line x1="822.9" y1="777.0" x2="822.9" y2="795.0" stroke="#707070" stroke-width="1.2"/><rect x="820.7" y="782.3" width="4.4" height="7.0" fill="#dd5a45" stroke="#5e1c14" stroke-width="1.1"/><line x1="829.6" y1="779.9" x2="829.6" y2="802.8" stroke="#707070" stroke-width="1.2"/><rect x="827.4" y="789.3" width="4.4" height="1.5" fill="#6ea584" stroke="#1d4a2e" stroke-width="1.1"/><line x1="836.4" y1="757.1" x2="836.4" y2="790.5" stroke="#707070" stroke-width="1.2"/><rect x="834.2" y="767.4" width="4.4" height="21.9" fill="#6ea584" stroke="#1d4a2e" stroke-width="1.1"/><line x1="843.2" y1="752.0" x2="843.2" y2="767.7" stroke="#707070" stroke-width="1.2"/><rect x="841.0" y="763.6" width="4.4" height="3.7" fill="#6ea584" stroke="#1d4a2e" stroke-width="1.1"/><line x1="850.0" y1="762.3" x2="850.0" y2="773.6" stroke="#707070" stroke-width="1.2"/><rect x="847.8" y="763.6" width="4.4" height="9.6" fill="#dd5a45" stroke="#5e1c14" stroke-width="1.1"/><line x1="856.8" y1="769.1" x2="856.8" y2="790.5" stroke="#707070" stroke-width="1.2"/><rect x="854.6" y="773.2" width="4.4" height="16.1" fill="#dd5a45" stroke="#5e1c14" stroke-width="1.1"/><line x1="863.6" y1="779.9" x2="863.6" y2="796.6" stroke="#707070" stroke-width="1.2"/><rect x="861.4" y="785.3" width="4.4" height="4.0" fill="#6ea584" stroke="#1d4a2e" stroke-width="1.1"/><line x1="870.3" y1="762.3" x2="870.3" y2="797.6" stroke="#707070" stroke-width="1.2"/><rect x="868.1" y="763.2" width="4.4" height="22.2" fill="#6ea584" stroke="#1d4a2e" stroke-width="1.1"/><line x1="877.1" y1="753.9" x2="877.1" y2="773.8" stroke="#707070" stroke-width="1.2"/><rect x="874.9" y="761.3" width="4.4" height="1.9" fill="#6ea584" stroke="#1d4a2e" stroke-width="1.1"/><line x1="883.9" y1="688.9" x2="883.9" y2="762.3" stroke="#707070" stroke-width="1.2"/><rect x="881.7" y="698.2" width="4.4" height="63.0" fill="#6ea584" stroke="#1d4a2e" stroke-width="1.1"/><line x1="890.7" y1="687.0" x2="890.7" y2="706.6" stroke="#707070" stroke-width="1.2"/><rect x="888.5" y="698.2" width="4.4" height="3.0" fill="#dd5a45" stroke="#5e1c14" stroke-width="1.1"/><line x1="897.5" y1="680.5" x2="897.5" y2="701.3" stroke="#707070" stroke-width="1.2"/><rect x="895.3" y="681.9" width="4.4" height="19.4" fill="#6ea584" stroke="#1d4a2e" stroke-width="1.1"/><line x1="904.3" y1="679.8" x2="904.3" y2="696.8" stroke="#707070" stroke-width="1.2"/><rect x="902.1" y="681.9" width="4.4" height="7.2" fill="#dd5a45" stroke="#5e1c14" stroke-width="1.1"/><line x1="911.1" y1="672.0" x2="911.1" y2="723.5" stroke="#707070" stroke-width="1.2"/><rect x="908.9" y="689.1" width="4.4" height="14.5" fill="#dd5a45" stroke="#5e1c14" stroke-width="1.1"/><line x1="917.8" y1="680.5" x2="917.8" y2="715.7" stroke="#707070" stroke-width="1.2"/><rect x="915.6" y="689.1" width="4.4" height="14.5" fill="#6ea584" stroke="#1d4a2e" stroke-width="1.1"/><line x1="924.6" y1="687.0" x2="924.6" y2="703.3" stroke="#707070" stroke-width="1.2"/><rect x="922.4" y="689.1" width="4.4" height="5.8" fill="#dd5a45" stroke="#5e1c14" stroke-width="1.1"/><line x1="931.4" y1="688.3" x2="931.4" y2="716.7" stroke="#707070" stroke-width="1.2"/><rect x="929.2" y="693.6" width="4.4" height="1.5" fill="#6ea584" stroke="#1d4a2e" stroke-width="1.1"/><line x1="938.2" y1="685.0" x2="938.2" y2="698.7" stroke="#707070" stroke-width="1.2"/><rect x="936.0" y="693.6" width="4.4" height="2.6" fill="#dd5a45" stroke="#5e1c14" stroke-width="1.1"/><line x1="945.0" y1="692.9" x2="945.0" y2="703.9" stroke="#707070" stroke-width="1.2"/><rect x="942.8" y="696.1" width="4.4" height="3.3" fill="#dd5a45" stroke="#5e1c14" stroke-width="1.1"/><line x1="951.8" y1="662.8" x2="951.8" y2="700.0" stroke="#707070" stroke-width="1.2"/><rect x="949.6" y="665.1" width="4.4" height="34.3" fill="#6ea584" stroke="#1d4a2e" stroke-width="1.1"/><line x1="958.6" y1="659.3" x2="958.6" y2="710.5" stroke="#707070" stroke-width="1.2"/><rect x="956.4" y="665.1" width="4.4" height="9.3" fill="#dd5a45" stroke="#5e1c14" stroke-width="1.1"/><line x1="965.3" y1="655.9" x2="965.3" y2="687.6" stroke="#707070" stroke-width="1.2"/><rect x="963.1" y="661.1" width="4.4" height="13.3" fill="#6ea584" stroke="#1d4a2e" stroke-width="1.1"/><line x1="972.1" y1="621.1" x2="972.1" y2="668.7" stroke="#707070" stroke-width="1.2"/><rect x="969.9" y="633.1" width="4.4" height="28.0" fill="#6ea584" stroke="#1d4a2e" stroke-width="1.1"/><line x1="978.9" y1="608.9" x2="978.9" y2="637.0" stroke="#707070" stroke-width="1.2"/><rect x="976.7" y="611.8" width="4.4" height="21.2" fill="#6ea584" stroke="#1d4a2e" stroke-width="1.1"/><line x1="985.7" y1="610.9" x2="985.7" y2="661.8" stroke="#707070" stroke-width="1.2"/><rect x="983.5" y="611.8" width="4.4" height="44.4" fill="#dd5a45" stroke="#5e1c14" stroke-width="1.1"/><line x1="992.5" y1="634.1" x2="992.5" y2="661.1" stroke="#707070" stroke-width="1.2"/><rect x="990.3" y="652.2" width="4.4" height="4.0" fill="#6ea584" stroke="#1d4a2e" stroke-width="1.1"/><line x1="999.3" y1="635.9" x2="999.3" y2="663.7" stroke="#707070" stroke-width="1.2"/><rect x="997.1" y="638.9" width="4.4" height="13.3" fill="#6ea584" stroke="#1d4a2e" stroke-width="1.1"/><line x1="1006.1" y1="625.0" x2="1006.1" y2="642.8" stroke="#707070" stroke-width="1.2"/><rect x="1003.9" y="635.2" width="4.4" height="3.7" fill="#6ea584" stroke="#1d4a2e" stroke-width="1.1"/><line x1="1012.8" y1="622.0" x2="1012.8" y2="653.9" stroke="#707070" stroke-width="1.2"/><rect x="1010.6" y="635.2" width="4.4" height="5.4" fill="#dd5a45" stroke="#5e1c14" stroke-width="1.1"/><line x1="1019.6" y1="635.9" x2="1019.6" y2="661.8" stroke="#707070" stroke-width="1.2"/><rect x="1017.4" y="640.6" width="4.4" height="11.7" fill="#dd5a45" stroke="#5e1c14" stroke-width="1.1"/><line x1="1026.4" y1="640.2" x2="1026.4" y2="676.8" stroke="#707070" stroke-width="1.2"/><rect x="1024.2" y="652.2" width="4.4" height="22.2" fill="#dd5a45" stroke="#5e1c14" stroke-width="1.1"/><line x1="1033.2" y1="667.0" x2="1033.2" y2="693.7" stroke="#707070" stroke-width="1.2"/><rect x="1031.0" y="674.4" width="4.4" height="16.3" fill="#dd5a45" stroke="#5e1c14" stroke-width="1.1"/><line x1="1040.0" y1="681.3" x2="1040.0" y2="699.6" stroke="#707070" stroke-width="1.2"/><rect x="1037.8" y="684.2" width="4.4" height="6.5" fill="#6ea584" stroke="#1d4a2e" stroke-width="1.1"/><line x1="1046.8" y1="671.6" x2="1046.8" y2="693.1" stroke="#707070" stroke-width="1.2"/><rect x="1044.6" y="673.3" width="4.4" height="11.0" fill="#6ea584" stroke="#1d4a2e" stroke-width="1.1"/><line x1="1053.6" y1="669.9" x2="1053.6" y2="693.7" stroke="#707070" stroke-width="1.2"/><rect x="1051.4" y="670.9" width="4.4" height="2.3" fill="#6ea584" stroke="#1d4a2e" stroke-width="1.1"/><line x1="1060.3" y1="661.8" x2="1060.3" y2="680.7" stroke="#707070" stroke-width="1.2"/><rect x="1058.1" y="670.9" width="4.4" height="5.4" fill="#dd5a45" stroke="#5e1c14" stroke-width="1.1"/><line x1="1067.1" y1="669.9" x2="1067.1" y2="687.9" stroke="#707070" stroke-width="1.2"/><rect x="1064.9" y="676.3" width="4.4" height="7.5" fill="#dd5a45" stroke="#5e1c14" stroke-width="1.1"/><line x1="1073.9" y1="671.2" x2="1073.9" y2="727.0" stroke="#707070" stroke-width="1.2"/><rect x="1071.7" y="683.8" width="4.4" height="32.7" fill="#dd5a45" stroke="#5e1c14" stroke-width="1.1"/><line x1="1080.7" y1="677.2" x2="1080.7" y2="719.8" stroke="#707070" stroke-width="1.2"/><rect x="1078.5" y="687.3" width="4.4" height="29.2" fill="#6ea584" stroke="#1d4a2e" stroke-width="1.1"/><line x1="1087.5" y1="671.2" x2="1087.5" y2="691.8" stroke="#707070" stroke-width="1.2"/><rect x="1085.3" y="674.4" width="4.4" height="12.8" fill="#6ea584" stroke="#1d4a2e" stroke-width="1.1"/><line x1="1094.3" y1="665.0" x2="1094.3" y2="680.0" stroke="#707070" stroke-width="1.2"/><rect x="1092.1" y="673.3" width="4.4" height="1.5" fill="#6ea584" stroke="#1d4a2e" stroke-width="1.1"/><line x1="1101.1" y1="623.9" x2="1101.1" y2="676.8" stroke="#707070" stroke-width="1.2"/><rect x="1098.9" y="625.8" width="4.4" height="47.4" fill="#6ea584" stroke="#1d4a2e" stroke-width="1.1"/><line x1="1107.8" y1="625.2" x2="1107.8" y2="645.8" stroke="#707070" stroke-width="1.2"/><rect x="1105.6" y="625.8" width="4.4" height="1.5" fill="#6ea584" stroke="#1d4a2e" stroke-width="1.1"/><line x1="1114.6" y1="624.6" x2="1114.6" y2="648.7" stroke="#707070" stroke-width="1.2"/><rect x="1112.4" y="625.8" width="4.4" height="17.0" fill="#dd5a45" stroke="#5e1c14" stroke-width="1.1"/><line x1="1121.4" y1="641.1" x2="1121.4" y2="673.7" stroke="#707070" stroke-width="1.2"/><rect x="1119.2" y="642.9" width="4.4" height="30.8" fill="#dd5a45" stroke="#5e1c14" stroke-width="1.1"/><line x1="1128.2" y1="668.0" x2="1128.2" y2="703.8" stroke="#707070" stroke-width="1.2"/><rect x="1126.0" y="668.6" width="4.4" height="5.1" fill="#6ea584" stroke="#1d4a2e" stroke-width="1.1"/><line x1="1135.0" y1="667.0" x2="1135.0" y2="686.8" stroke="#707070" stroke-width="1.2"/><rect x="1132.8" y="668.6" width="4.4" height="7.7" fill="#dd5a45" stroke="#5e1c14" stroke-width="1.1"/><line x1="1141.8" y1="668.9" x2="1141.8" y2="685.0" stroke="#707070" stroke-width="1.2"/><rect x="1139.6" y="674.4" width="4.4" height="1.9" fill="#6ea584" stroke="#1d4a2e" stroke-width="1.1"/><line x1="1148.6" y1="639.8" x2="1148.6" y2="680.0" stroke="#707070" stroke-width="1.2"/><rect x="1146.4" y="661.9" width="4.4" height="12.5" fill="#6ea584" stroke="#1d4a2e" stroke-width="1.1"/><line x1="1155.3" y1="652.0" x2="1155.3" y2="697.0" stroke="#707070" stroke-width="1.2"/><rect x="1153.1" y="661.9" width="4.4" height="23.4" fill="#dd5a45" stroke="#5e1c14" stroke-width="1.1"/><line x1="1162.1" y1="674.2" x2="1162.1" y2="695.0" stroke="#707070" stroke-width="1.2"/><rect x="1159.9" y="681.4" width="4.4" height="3.9" fill="#6ea584" stroke="#1d4a2e" stroke-width="1.1"/><line x1="1168.9" y1="678.1" x2="1168.9" y2="690.7" stroke="#707070" stroke-width="1.2"/><rect x="1166.7" y="681.4" width="4.4" height="1.5" fill="#dd5a45" stroke="#5e1c14" stroke-width="1.1"/><line x1="1175.7" y1="664.1" x2="1175.7" y2="706.8" stroke="#707070" stroke-width="1.2"/><rect x="1173.5" y="682.6" width="4.4" height="14.7" fill="#dd5a45" stroke="#5e1c14" stroke-width="1.1"/><line x1="1182.5" y1="690.2" x2="1182.5" y2="721.8" stroke="#707070" stroke-width="1.2"/><rect x="1180.3" y="697.3" width="4.4" height="11.7" fill="#dd5a45" stroke="#5e1c14" stroke-width="1.1"/><line x1="1189.3" y1="695.9" x2="1189.3" y2="748.9" stroke="#707070" stroke-width="1.2"/><rect x="1187.1" y="709.0" width="4.4" height="12.1" fill="#dd5a45" stroke="#5e1c14" stroke-width="1.1"/><line x1="1196.1" y1="668.9" x2="1196.1" y2="734.8" stroke="#707070" stroke-width="1.2"/><rect x="1193.9" y="677.2" width="4.4" height="43.9" fill="#6ea584" stroke="#1d4a2e" stroke-width="1.1"/><line x1="1202.8" y1="667.0" x2="1202.8" y2="683.7" stroke="#707070" stroke-width="1.2"/><rect x="1200.6" y="669.3" width="4.4" height="7.9" fill="#6ea584" stroke="#1d4a2e" stroke-width="1.1"/><line x1="1209.6" y1="648.1" x2="1209.6" y2="671.9" stroke="#707070" stroke-width="1.2"/><rect x="1207.4" y="656.2" width="4.4" height="13.1" fill="#6ea584" stroke="#1d4a2e" stroke-width="1.1"/><line x1="1216.4" y1="646.8" x2="1216.4" y2="663.8" stroke="#707070" stroke-width="1.2"/><rect x="1214.2" y="656.2" width="4.4" height="3.7" fill="#dd5a45" stroke="#5e1c14" stroke-width="1.1"/><line x1="1223.2" y1="652.0" x2="1223.2" y2="665.7" stroke="#707070" stroke-width="1.2"/><rect x="1221.0" y="659.9" width="4.4" height="1.5" fill="#6ea584" stroke="#1d4a2e" stroke-width="1.1"/><line x1="1230.0" y1="654.0" x2="1230.0" y2="661.8" stroke="#707070" stroke-width="1.2"/><rect x="1227.8" y="657.6" width="4.4" height="2.3" fill="#6ea584" stroke="#1d4a2e" stroke-width="1.1"/><line x1="1236.8" y1="644.2" x2="1236.8" y2="657.9" stroke="#707070" stroke-width="1.2"/><rect x="1234.6" y="646.4" width="4.4" height="11.2" fill="#6ea584" stroke="#1d4a2e" stroke-width="1.1"/><line x1="1243.6" y1="640.9" x2="1243.6" y2="661.8" stroke="#707070" stroke-width="1.2"/><rect x="1241.4" y="646.4" width="4.4" height="11.7" fill="#dd5a45" stroke="#5e1c14" stroke-width="1.1"/><line x1="1250.3" y1="654.0" x2="1250.3" y2="676.8" stroke="#707070" stroke-width="1.2"/><rect x="1248.1" y="658.1" width="4.4" height="15.2" fill="#dd5a45" stroke="#5e1c14" stroke-width="1.1"/><line x1="1257.1" y1="632.0" x2="1257.1" y2="678.8" stroke="#707070" stroke-width="1.2"/><rect x="1254.9" y="641.7" width="4.4" height="31.5" fill="#6ea584" stroke="#1d4a2e" stroke-width="1.1"/><line x1="1263.9" y1="624.0" x2="1263.9" y2="643.5" stroke="#707070" stroke-width="1.2"/><rect x="1261.7" y="633.6" width="4.4" height="8.2" fill="#6ea584" stroke="#1d4a2e" stroke-width="1.1"/><line x1="1270.7" y1="631.1" x2="1270.7" y2="656.6" stroke="#707070" stroke-width="1.2"/><rect x="1268.5" y="633.6" width="4.4" height="16.3" fill="#dd5a45" stroke="#5e1c14" stroke-width="1.1"/><line x1="1277.5" y1="644.8" x2="1277.5" y2="652.0" stroke="#707070" stroke-width="1.2"/><rect x="1275.3" y="647.6" width="4.4" height="2.3" fill="#6ea584" stroke="#1d4a2e" stroke-width="1.1"/><line x1="1284.3" y1="632.0" x2="1284.3" y2="650.7" stroke="#707070" stroke-width="1.2"/><rect x="1282.1" y="637.5" width="4.4" height="10.0" fill="#6ea584" stroke="#1d4a2e" stroke-width="1.1"/><line x1="1291.1" y1="632.0" x2="1291.1" y2="654.0" stroke="#707070" stroke-width="1.2"/><rect x="1288.9" y="637.5" width="4.4" height="9.3" fill="#dd5a45" stroke="#5e1c14" stroke-width="1.1"/><line x1="1297.8" y1="637.0" x2="1297.8" y2="654.6" stroke="#707070" stroke-width="1.2"/><rect x="1295.6" y="640.6" width="4.4" height="6.3" fill="#6ea584" stroke="#1d4a2e" stroke-width="1.1"/><line x1="1304.6" y1="609.0" x2="1304.6" y2="645.5" stroke="#707070" stroke-width="1.2"/><rect x="1302.4" y="617.2" width="4.4" height="23.4" fill="#6ea584" stroke="#1d4a2e" stroke-width="1.1"/><line x1="1311.4" y1="559.0" x2="1311.4" y2="623.7" stroke="#707070" stroke-width="1.2"/><rect x="1309.2" y="568.2" width="4.4" height="49.0" fill="#6ea584" stroke="#1d4a2e" stroke-width="1.1"/><line x1="1318.2" y1="538.9" x2="1318.2" y2="575.7" stroke="#707070" stroke-width="1.2"/><rect x="1316.0" y="551.9" width="4.4" height="16.3" fill="#6ea584" stroke="#1d4a2e" stroke-width="1.1"/><line x1="1325.0" y1="545.9" x2="1325.0" y2="558.7" stroke="#707070" stroke-width="1.2"/><rect x="1322.8" y="551.9" width="4.4" height="1.9" fill="#dd5a45" stroke="#5e1c14" stroke-width="1.1"/><line x1="1331.8" y1="532.0" x2="1331.8" y2="554.8" stroke="#707070" stroke-width="1.2"/><rect x="1329.6" y="537.9" width="4.4" height="15.9" fill="#6ea584" stroke="#1d4a2e" stroke-width="1.1"/><line x1="1338.6" y1="493.5" x2="1338.6" y2="537.9" stroke="#707070" stroke-width="1.2"/><rect x="1336.4" y="529.7" width="4.4" height="8.2" fill="#6ea584" stroke="#1d4a2e" stroke-width="1.1"/><line x1="1345.3" y1="528.1" x2="1345.3" y2="571.1" stroke="#707070" stroke-width="1.2"/><rect x="1343.1" y="529.7" width="4.4" height="21.0" fill="#dd5a45" stroke="#5e1c14" stroke-width="1.1"/><line x1="1352.1" y1="527.1" x2="1352.1" y2="557.4" stroke="#707070" stroke-width="1.2"/><rect x="1349.9" y="541.4" width="4.4" height="9.3" fill="#6ea584" stroke="#1d4a2e" stroke-width="1.1"/><line x1="1358.9" y1="517.0" x2="1358.9" y2="552.8" stroke="#707070" stroke-width="1.2"/><rect x="1356.7" y="536.7" width="4.4" height="4.7" fill="#6ea584" stroke="#1d4a2e" stroke-width="1.1"/><line x1="1365.7" y1="518.9" x2="1365.7" y2="560.0" stroke="#707070" stroke-width="1.2"/><rect x="1363.5" y="536.7" width="4.4" height="11.7" fill="#dd5a45" stroke="#5e1c14" stroke-width="1.1"/><line x1="1372.5" y1="542.8" x2="1372.5" y2="554.8" stroke="#707070" stroke-width="1.2"/><rect x="1370.3" y="548.4" width="4.4" height="1.5" fill="#6ea584" stroke="#1d4a2e" stroke-width="1.1"/><line x1="1379.3" y1="538.9" x2="1379.3" y2="562.6" stroke="#707070" stroke-width="1.2"/><rect x="1377.1" y="548.4" width="4.4" height="7.0" fill="#dd5a45" stroke="#5e1c14" stroke-width="1.1"/><line x1="1386.1" y1="531.1" x2="1386.1" y2="562.6" stroke="#707070" stroke-width="1.2"/><rect x="1383.9" y="554.7" width="4.4" height="1.5" fill="#6ea584" stroke="#1d4a2e" stroke-width="1.1"/><line x1="1392.8" y1="524.8" x2="1392.8" y2="566.5" stroke="#707070" stroke-width="1.2"/><rect x="1390.6" y="528.5" width="4.4" height="26.2" fill="#6ea584" stroke="#1d4a2e" stroke-width="1.1"/><line x1="1399.6" y1="526.1" x2="1399.6" y2="554.8" stroke="#707070" stroke-width="1.2"/><rect x="1397.4" y="528.5" width="4.4" height="11.7" fill="#dd5a45" stroke="#5e1c14" stroke-width="1.1"/><line x1="1406.4" y1="533.3" x2="1406.4" y2="556.8" stroke="#707070" stroke-width="1.2"/><rect x="1404.2" y="540.2" width="4.4" height="4.2" fill="#dd5a45" stroke="#5e1c14" stroke-width="1.1"/><line x1="1413.2" y1="543.1" x2="1413.2" y2="580.9" stroke="#707070" stroke-width="1.2"/><rect x="1411.0" y="544.4" width="4.4" height="7.9" fill="#dd5a45" stroke="#5e1c14" stroke-width="1.1"/><line x1="1420.0" y1="545.0" x2="1420.0" y2="555.8" stroke="#707070" stroke-width="1.2"/><rect x="1417.8" y="548.4" width="4.4" height="4.0" fill="#6ea584" stroke="#1d4a2e" stroke-width="1.1"/><line x1="1426.8" y1="530.0" x2="1426.8" y2="548.9" stroke="#707070" stroke-width="1.2"/><rect x="1424.6" y="533.2" width="4.4" height="15.2" fill="#6ea584" stroke="#1d4a2e" stroke-width="1.1"/><line x1="1433.6" y1="529.0" x2="1433.6" y2="552.8" stroke="#707070" stroke-width="1.2"/><rect x="1431.4" y="533.2" width="4.4" height="14.0" fill="#dd5a45" stroke="#5e1c14" stroke-width="1.1"/><line x1="1440.3" y1="535.0" x2="1440.3" y2="557.7" stroke="#707070" stroke-width="1.2"/><rect x="1438.1" y="547.2" width="4.4" height="1.5" fill="#dd5a45" stroke="#5e1c14" stroke-width="1.1"/><line x1="1447.1" y1="540.2" x2="1447.1" y2="569.8" stroke="#707070" stroke-width="1.2"/><rect x="1444.9" y="547.7" width="4.4" height="1.9" fill="#dd5a45" stroke="#5e1c14" stroke-width="1.1"/><line x1="1453.9" y1="537.8" x2="1453.9" y2="572.4" stroke="#707070" stroke-width="1.2"/><rect x="1451.7" y="549.6" width="4.4" height="21.0" fill="#dd5a45" stroke="#5e1c14" stroke-width="1.1"/><line x1="1460.7" y1="567.2" x2="1460.7" y2="600.5" stroke="#707070" stroke-width="1.2"/><rect x="1458.5" y="570.6" width="4.4" height="24.5" fill="#dd5a45" stroke="#5e1c14" stroke-width="1.1"/><line x1="1467.5" y1="588.1" x2="1467.5" y2="608.3" stroke="#707070" stroke-width="1.2"/><rect x="1465.3" y="595.1" width="4.4" height="5.8" fill="#dd5a45" stroke="#5e1c14" stroke-width="1.1"/><line x1="1474.3" y1="580.3" x2="1474.3" y2="609.6" stroke="#707070" stroke-width="1.2"/><rect x="1472.1" y="586.9" width="4.4" height="14.0" fill="#6ea584" stroke="#1d4a2e" stroke-width="1.1"/><line x1="1481.1" y1="571.1" x2="1481.1" y2="586.9" stroke="#707070" stroke-width="1.2"/><rect x="1478.9" y="578.7" width="4.4" height="8.2" fill="#6ea584" stroke="#1d4a2e" stroke-width="1.1"/><line x1="1487.8" y1="577.0" x2="1487.8" y2="601.8" stroke="#707070" stroke-width="1.2"/><rect x="1485.6" y="578.7" width="4.4" height="8.2" fill="#dd5a45" stroke="#5e1c14" stroke-width="1.1"/><line x1="1494.6" y1="571.1" x2="1494.6" y2="594.6" stroke="#707070" stroke-width="1.2"/><rect x="1492.4" y="578.7" width="4.4" height="8.2" fill="#6ea584" stroke="#1d4a2e" stroke-width="1.1"/><line x1="1501.4" y1="550.9" x2="1501.4" y2="585.5" stroke="#707070" stroke-width="1.2"/><rect x="1499.2" y="553.8" width="4.4" height="25.0" fill="#6ea584" stroke="#1d4a2e" stroke-width="1.1"/><line x1="1508.2" y1="550.9" x2="1508.2" y2="568.5" stroke="#707070" stroke-width="1.2"/><rect x="1506.0" y="553.8" width="4.4" height="7.5" fill="#dd5a45" stroke="#5e1c14" stroke-width="1.1"/><line x1="1515.0" y1="548.3" x2="1515.0" y2="563.9" stroke="#707070" stroke-width="1.2"/><rect x="1512.8" y="561.2" width="4.4" height="1.9" fill="#dd5a45" stroke="#5e1c14" stroke-width="1.1"/><line x1="1521.8" y1="533.9" x2="1521.8" y2="563.3" stroke="#707070" stroke-width="1.2"/><rect x="1519.6" y="534.6" width="4.4" height="28.5" fill="#6ea584" stroke="#1d4a2e" stroke-width="1.1"/><line x1="1528.6" y1="503.3" x2="1528.6" y2="546.3" stroke="#707070" stroke-width="1.2"/><rect x="1526.4" y="534.6" width="4.4" height="6.7" fill="#dd5a45" stroke="#5e1c14" stroke-width="1.1"/><line x1="1535.3" y1="524.1" x2="1535.3" y2="544.4" stroke="#707070" stroke-width="1.2"/><rect x="1533.1" y="526.4" width="4.4" height="14.8" fill="#6ea584" stroke="#1d4a2e" stroke-width="1.1"/><line x1="1542.1" y1="490.2" x2="1542.1" y2="537.6" stroke="#707070" stroke-width="1.2"/><rect x="1539.9" y="494.4" width="4.4" height="32.0" fill="#6ea584" stroke="#1d4a2e" stroke-width="1.1"/><line x1="1548.9" y1="482.4" x2="1548.9" y2="555.5" stroke="#707070" stroke-width="1.2"/><rect x="1546.7" y="494.4" width="4.4" height="50.9" fill="#dd5a45" stroke="#5e1c14" stroke-width="1.1"/><line x1="1555.7" y1="535.2" x2="1555.7" y2="559.4" stroke="#707070" stroke-width="1.2"/><rect x="1553.5" y="545.3" width="4.4" height="8.6" fill="#dd5a45" stroke="#5e1c14" stroke-width="1.1"/><line x1="1562.5" y1="548.9" x2="1562.5" y2="555.5" stroke="#707070" stroke-width="1.2"/><rect x="1560.3" y="554.0" width="4.4" height="1.5" fill="#6ea584" stroke="#1d4a2e" stroke-width="1.1"/><line x1="1569.3" y1="542.0" x2="1569.3" y2="555.5" stroke="#707070" stroke-width="1.2"/><rect x="1567.1" y="554.0" width="4.4" height="1.5" fill="#6ea584" stroke="#1d4a2e" stroke-width="1.1"/><line x1="1576.1" y1="552.2" x2="1576.1" y2="581.6" stroke="#707070" stroke-width="1.2"/><rect x="1573.9" y="554.0" width="4.4" height="12.4" fill="#dd5a45" stroke="#5e1c14" stroke-width="1.1"/><line x1="1582.8" y1="562.0" x2="1582.8" y2="600.5" stroke="#707070" stroke-width="1.2"/><rect x="1580.6" y="566.3" width="4.4" height="33.6" fill="#dd5a45" stroke="#5e1c14" stroke-width="1.1"/><line x1="1589.6" y1="582.5" x2="1589.6" y2="604.4" stroke="#707070" stroke-width="1.2"/><rect x="1587.4" y="586.7" width="4.4" height="13.3" fill="#6ea584" stroke="#1d4a2e" stroke-width="1.1"/><line x1="1596.4" y1="580.3" x2="1596.4" y2="608.3" stroke="#707070" stroke-width="1.2"/><rect x="1594.2" y="586.7" width="4.4" height="17.5" fill="#dd5a45" stroke="#5e1c14" stroke-width="1.1"/><line x1="1603.2" y1="552.9" x2="1603.2" y2="611.6" stroke="#707070" stroke-width="1.2"/><rect x="1601.0" y="558.6" width="4.4" height="45.5" fill="#6ea584" stroke="#1d4a2e" stroke-width="1.1"/><line x1="1610.0" y1="556.8" x2="1610.0" y2="582.2" stroke="#707070" stroke-width="1.2"/><rect x="1607.8" y="558.6" width="4.4" height="15.6" fill="#dd5a45" stroke="#5e1c14" stroke-width="1.1"/><line x1="1616.8" y1="571.1" x2="1616.8" y2="621.4" stroke="#707070" stroke-width="1.2"/><rect x="1614.6" y="574.3" width="4.4" height="20.1" fill="#dd5a45" stroke="#5e1c14" stroke-width="1.1"/><line x1="1623.6" y1="592.0" x2="1623.6" y2="635.7" stroke="#707070" stroke-width="1.2"/><rect x="1621.4" y="594.4" width="4.4" height="33.6" fill="#dd5a45" stroke="#5e1c14" stroke-width="1.1"/><line x1="1630.3" y1="605.4" x2="1630.3" y2="642.2" stroke="#707070" stroke-width="1.2"/><rect x="1628.1" y="611.6" width="4.4" height="16.3" fill="#6ea584" stroke="#1d4a2e" stroke-width="1.1"/><line x1="1637.1" y1="602.4" x2="1637.1" y2="625.3" stroke="#707070" stroke-width="1.2"/><rect x="1634.9" y="611.6" width="4.4" height="4.7" fill="#dd5a45" stroke="#5e1c14" stroke-width="1.1"/><line x1="1643.9" y1="594.0" x2="1643.9" y2="619.4" stroke="#707070" stroke-width="1.2"/><rect x="1641.7" y="603.7" width="4.4" height="12.6" fill="#6ea584" stroke="#1d4a2e" stroke-width="1.1"/><line x1="1650.7" y1="602.4" x2="1650.7" y2="654.0" stroke="#707070" stroke-width="1.2"/><rect x="1648.5" y="603.7" width="4.4" height="42.5" fill="#dd5a45" stroke="#5e1c14" stroke-width="1.1"/><line x1="1657.5" y1="640.3" x2="1657.5" y2="655.3" stroke="#707070" stroke-width="1.2"/><rect x="1655.3" y="641.5" width="4.4" height="4.7" fill="#6ea584" stroke="#1d4a2e" stroke-width="1.1"/><line x1="1664.3" y1="634.1" x2="1664.3" y2="648.1" stroke="#707070" stroke-width="1.2"/><rect x="1662.1" y="641.5" width="4.4" height="5.8" fill="#dd5a45" stroke="#5e1c14" stroke-width="1.1"/><line x1="1671.1" y1="630.2" x2="1671.1" y2="656.3" stroke="#707070" stroke-width="1.2"/><rect x="1668.9" y="638.0" width="4.4" height="9.3" fill="#6ea584" stroke="#1d4a2e" stroke-width="1.1"/><line x1="1677.8" y1="611.4" x2="1677.8" y2="644.6" stroke="#707070" stroke-width="1.2"/><rect x="1675.6" y="616.3" width="4.4" height="21.7" fill="#6ea584" stroke="#1d4a2e" stroke-width="1.1"/><line x1="1684.6" y1="602.9" x2="1684.6" y2="623.8" stroke="#707070" stroke-width="1.2"/><rect x="1682.4" y="613.0" width="4.4" height="3.3" fill="#6ea584" stroke="#1d4a2e" stroke-width="1.1"/><line x1="1691.4" y1="607.4" x2="1691.4" y2="635.5" stroke="#707070" stroke-width="1.2"/><rect x="1689.2" y="613.0" width="4.4" height="9.3" fill="#dd5a45" stroke="#5e1c14" stroke-width="1.1"/><line x1="1698.2" y1="595.4" x2="1698.2" y2="626.8" stroke="#707070" stroke-width="1.2"/><rect x="1696.0" y="622.4" width="4.4" height="1.5" fill="#6ea584" stroke="#1d4a2e" stroke-width="1.1"/><line x1="1705.0" y1="615.9" x2="1705.0" y2="628.3" stroke="#707070" stroke-width="1.2"/><rect x="1702.8" y="622.4" width="4.4" height="4.7" fill="#dd5a45" stroke="#5e1c14" stroke-width="1.1"/><line x1="1711.8" y1="613.3" x2="1711.8" y2="627.7" stroke="#707070" stroke-width="1.2"/><rect x="1709.6" y="618.6" width="4.4" height="8.4" fill="#6ea584" stroke="#1d4a2e" stroke-width="1.1"/><line x1="1718.5" y1="599.0" x2="1718.5" y2="622.4" stroke="#707070" stroke-width="1.2"/><rect x="1716.3" y="608.8" width="4.4" height="9.8" fill="#6ea584" stroke="#1d4a2e" stroke-width="1.1"/><line x1="1725.3" y1="596.0" x2="1725.3" y2="620.5" stroke="#707070" stroke-width="1.2"/><rect x="1723.1" y="608.8" width="4.4" height="4.2" fill="#dd5a45" stroke="#5e1c14" stroke-width="1.1"/><line x1="1732.1" y1="585.3" x2="1732.1" y2="619.2" stroke="#707070" stroke-width="1.2"/><rect x="1729.9" y="589.7" width="4.4" height="23.4" fill="#6ea584" stroke="#1d4a2e" stroke-width="1.1"/><line x1="1738.9" y1="572.9" x2="1738.9" y2="593.7" stroke="#707070" stroke-width="1.2"/><rect x="1736.7" y="573.3" width="4.4" height="16.3" fill="#6ea584" stroke="#1d4a2e" stroke-width="1.1"/><line x1="1745.7" y1="561.1" x2="1745.7" y2="580.0" stroke="#707070" stroke-width="1.2"/><rect x="1743.5" y="568.7" width="4.4" height="4.7" fill="#6ea584" stroke="#1d4a2e" stroke-width="1.1"/><line x1="1752.5" y1="567.6" x2="1752.5" y2="576.8" stroke="#707070" stroke-width="1.2"/><rect x="1750.3" y="568.7" width="4.4" height="1.5" fill="#6ea584" stroke="#1d4a2e" stroke-width="1.1"/><line x1="1759.3" y1="566.3" x2="1759.3" y2="575.5" stroke="#707070" stroke-width="1.2"/><rect x="1757.1" y="568.7" width="4.4" height="6.3" fill="#dd5a45" stroke="#5e1c14" stroke-width="1.1"/><line x1="1766.0" y1="559.8" x2="1766.0" y2="583.3" stroke="#707070" stroke-width="1.2"/><rect x="1763.8" y="575.0" width="4.4" height="1.5" fill="#6ea584" stroke="#1d4a2e" stroke-width="1.1"/><line x1="1772.8" y1="558.1" x2="1772.8" y2="580.0" stroke="#707070" stroke-width="1.2"/><rect x="1770.6" y="560.3" width="4.4" height="14.7" fill="#6ea584" stroke="#1d4a2e" stroke-width="1.1"/><line x1="1779.6" y1="555.3" x2="1779.6" y2="580.7" stroke="#707070" stroke-width="1.2"/><rect x="1777.4" y="560.3" width="4.4" height="2.3" fill="#dd5a45" stroke="#5e1c14" stroke-width="1.1"/><line x1="1786.4" y1="549.4" x2="1786.4" y2="566.3" stroke="#707070" stroke-width="1.2"/><rect x="1784.2" y="557.5" width="4.4" height="5.1" fill="#6ea584" stroke="#1d4a2e" stroke-width="1.1"/><line x1="1793.2" y1="553.3" x2="1793.2" y2="576.1" stroke="#707070" stroke-width="1.2"/><rect x="1791.0" y="557.5" width="4.4" height="14.5" fill="#dd5a45" stroke="#5e1c14" stroke-width="1.1"/><line x1="1800.0" y1="567.0" x2="1800.0" y2="573.5" stroke="#707070" stroke-width="1.2"/><rect x="1797.8" y="571.9" width="4.4" height="1.5" fill="#6ea584" stroke="#1d4a2e" stroke-width="1.1"/><line x1="1806.8" y1="570.3" x2="1806.8" y2="576.8" stroke="#707070" stroke-width="1.2"/><rect x="1804.6" y="571.9" width="4.4" height="3.7" fill="#dd5a45" stroke="#5e1c14" stroke-width="1.1"/><line x1="1813.5" y1="574.2" x2="1813.5" y2="610.7" stroke="#707070" stroke-width="1.2"/><rect x="1811.3" y="575.7" width="4.4" height="26.2" fill="#dd5a45" stroke="#5e1c14" stroke-width="1.1"/><line x1="1820.3" y1="595.7" x2="1820.3" y2="613.7" stroke="#707070" stroke-width="1.2"/><rect x="1818.1" y="601.8" width="4.4" height="7.0" fill="#dd5a45" stroke="#5e1c14" stroke-width="1.1"/><line x1="1827.1" y1="589.2" x2="1827.1" y2="617.2" stroke="#707070" stroke-width="1.2"/><rect x="1824.9" y="596.0" width="4.4" height="12.8" fill="#6ea584" stroke="#1d4a2e" stroke-width="1.1"/><line x1="1833.9" y1="593.7" x2="1833.9" y2="642.0" stroke="#707070" stroke-width="1.2"/><rect x="1831.7" y="596.0" width="4.4" height="42.7" fill="#dd5a45" stroke="#5e1c14" stroke-width="1.1"/><line x1="1840.7" y1="626.0" x2="1840.7" y2="642.7" stroke="#707070" stroke-width="1.2"/><rect x="1838.5" y="633.4" width="4.4" height="5.4" fill="#6ea584" stroke="#1d4a2e" stroke-width="1.1"/><line x1="1847.5" y1="630.7" x2="1847.5" y2="638.5" stroke="#707070" stroke-width="1.2"/><rect x="1845.3" y="633.4" width="4.4" height="1.5" fill="#6ea584" stroke="#1d4a2e" stroke-width="1.1"/><line x1="1854.3" y1="604.8" x2="1854.3" y2="636.8" stroke="#707070" stroke-width="1.2"/><rect x="1852.1" y="607.7" width="4.4" height="25.7" fill="#6ea584" stroke="#1d4a2e" stroke-width="1.1"/><line x1="1861.0" y1="584.6" x2="1861.0" y2="612.4" stroke="#707070" stroke-width="1.2"/><rect x="1858.8" y="585.5" width="4.4" height="22.2" fill="#6ea584" stroke="#1d4a2e" stroke-width="1.1"/><line x1="1867.8" y1="580.0" x2="1867.8" y2="601.6" stroke="#707070" stroke-width="1.2"/><rect x="1865.6" y="585.5" width="4.4" height="2.3" fill="#dd5a45" stroke="#5e1c14" stroke-width="1.1"/><line x1="1874.6" y1="536.3" x2="1874.6" y2="588.5" stroke="#707070" stroke-width="1.2"/><rect x="1872.4" y="542.3" width="4.4" height="45.5" fill="#6ea584" stroke="#1d4a2e" stroke-width="1.1"/><line x1="1881.4" y1="517.4" x2="1881.4" y2="544.8" stroke="#707070" stroke-width="1.2"/><rect x="1879.2" y="522.4" width="4.4" height="19.8" fill="#6ea584" stroke="#1d4a2e" stroke-width="1.1"/><line x1="1888.2" y1="488.1" x2="1888.2" y2="534.4" stroke="#707070" stroke-width="1.2"/><rect x="1886.0" y="504.9" width="4.4" height="17.5" fill="#6ea584" stroke="#1d4a2e" stroke-width="1.1"/><line x1="1895.0" y1="499.1" x2="1895.0" y2="511.5" stroke="#707070" stroke-width="1.2"/><rect x="1892.8" y="503.8" width="4.4" height="1.5" fill="#6ea584" stroke="#1d4a2e" stroke-width="1.1"/><line x1="1901.8" y1="469.4" x2="1901.8" y2="505.0" stroke="#707070" stroke-width="1.2"/><rect x="1899.6" y="492.6" width="4.4" height="11.2" fill="#6ea584" stroke="#1d4a2e" stroke-width="1.1"/><line x1="1908.5" y1="482.8" x2="1908.5" y2="495.5" stroke="#707070" stroke-width="1.2"/><rect x="1906.3" y="486.9" width="4.4" height="5.6" fill="#6ea584" stroke="#1d4a2e" stroke-width="1.1"/>
</g>
<line x1="2590.5" y1="49.6" x2="2590.5" y2="1451" stroke="#4d4d4d" stroke-width="1.4"/>
<line x1="18" y1="1401.5" x2="2708" y2="1401.5" stroke="#4d4d4d" stroke-width="1.4"/>
<g font-size="21.4">
<text x="33" y="84.9" fill="#4c4c4c" textLength="325" lengthAdjust="spacingAndGlyphs">Bitcoin / TetherUS · 1D · Binance</text>
<text x="372.3" y="84.9" fill="#1e5a37" textLength="128.7" lengthAdjust="spacingAndGlyphs">O123,482.32</text>
<text x="515" y="84.9" fill="#1e5a37" textLength="129.0" lengthAdjust="spacingAndGlyphs">H124,358.46</text>
<text x="658.4" y="84.9" fill="#1e5a37" textLength="125.4" lengthAdjust="spacingAndGlyphs">L123,084.00</text>
<text x="797.5" y="84.9" fill="#1e5a37" textLength="124.9" lengthAdjust="spacingAndGlyphs">C123,915.56</text>
<text x="936.5" y="84.9" fill="#1e5a37" textLength="185.3" lengthAdjust="spacingAndGlyphs">+433.25 (+0.35%)</text>
<text x="33" y="115.8" fill="#4c4c4c" textLength="198.6" lengthAdjust="spacingAndGlyphs">ETHUSDT · Binance</text>
<text x="245.8" y="115.8" fill="#3478f5" textLength="77.0" lengthAdjust="spacingAndGlyphs">35.89%</text>
<text x="33" y="146.4" fill="#4c4c4c" textLength="198.4" lengthAdjust="spacingAndGlyphs">SOLUSDT · Binance</text>
<text x="245.8" y="146.4" fill="#00c853" textLength="76.2" lengthAdjust="spacingAndGlyphs">20.08%</text>
<text x="33" y="177.0" fill="#4c4c4c" textLength="198.6" lengthAdjust="spacingAndGlyphs">XRPUSDT · Binance</text>
<text x="245.8" y="177.0" fill="#ff9800" textLength="73.5" lengthAdjust="spacingAndGlyphs">28.18%</text>
<text x="33" y="208.2" fill="#4c4c4c" textLength="200.3" lengthAdjust="spacingAndGlyphs">BNBUSDT · Binance</text>
<text x="246.7" y="208.2" fill="#26c6da" textLength="72.6" lengthAdjust="spacingAndGlyphs">71.32%</text>
</g>
<g font-size="20.5" fill="#6a6a6a">
<text x="2607" y="136.9" textLength="73" lengthAdjust="spacingAndGlyphs">70.00%</text>
<text x="2607" y="232.2" textLength="73" lengthAdjust="spacingAndGlyphs">60.00%</text>
<text x="2607" y="327.5" textLength="73" lengthAdjust="spacingAndGlyphs">50.00%</text>
<text x="2607" y="422.8" textLength="73" lengthAdjust="spacingAndGlyphs">40.00%</text>
<text x="2607" y="708.7" textLength="73" lengthAdjust="spacingAndGlyphs">10.00%</text>
<text x="2607" y="804.0" textLength="62" lengthAdjust="spacingAndGlyphs">0.00%</text>
<text x="2607" y="899.2" textLength="86" lengthAdjust="spacingAndGlyphs">−10.00%</text>
<text x="2607" y="994.6" textLength="86" lengthAdjust="spacingAndGlyphs">−20.00%</text>
<text x="2607" y="1089.8" textLength="86" lengthAdjust="spacingAndGlyphs">−30.00%</text>
<text x="2607" y="1185.1" textLength="86" lengthAdjust="spacingAndGlyphs">−40.00%</text>
<text x="2607" y="1280.4" textLength="86" lengthAdjust="spacingAndGlyphs">−50.00%</text>
<text x="2607" y="1375.8" textLength="86" lengthAdjust="spacingAndGlyphs">−60.00%</text>
</g>
<g font-size="20.5" fill="#555555" text-anchor="middle" letter-spacing="0.3" clip-path="url(#cpx)">
<text x="21.4" y="1433.4" font-weight="bold" letter-spacing="1.2">2025</text>
<text x="232.5" y="1433.4">Feb</text>
<text x="422.5" y="1433.4">Mar</text>
<text x="632.9" y="1433.4">Apr</text>
<text x="836.4" y="1433.4">May</text>
<text x="1046.8" y="1433.4">Jun</text>
<text x="1250.3" y="1433.4">Jul</text>
<text x="1460.7" y="1433.4">Aug</text>
<text x="1671.1" y="1433.4">Sep</text>
<text x="1874.6" y="1433.4">Oct</text>
<text x="2085.0" y="1433.4">Nov</text>
<text x="2288.5" y="1433.4">Dec</text>
<text x="2498.9" y="1433.4" font-weight="bold" letter-spacing="1.2">2026</text>
</g>
<rect x="2597" y="56.3" width="104.5" height="45.4" rx="6" fill="#ffffff"/>
<text x="2614" y="85.9" font-size="21" fill="#131313" textLength="57" lengthAdjust="spacingAndGlyphs">USDT</text>
<g font-size="19.5">
<path d="M2590.5,103 L2487,103 Q2483,103 2483,107 L2483,128 Q2483,132 2487,132 L2590.5,132 Z" fill="#26c6da"/>
<path d="M2590.5,108.5 L2698.5,108.5 Q2702.5,108.5 2702.5,112.5 L2702.5,128 Q2702.5,132 2698.5,132 L2590.5,132 Z" fill="#26c6da"/>
<text x="2490" y="124.5" fill="#0a0a0a" textLength="92" lengthAdjust="spacingAndGlyphs">BNBUSDT</text>
<text x="2607.6" y="124.5" fill="#0a0a0a" textLength="86.4" lengthAdjust="spacingAndGlyphs">+71.32%</text>
<path d="M2590.5,440 L2487,440 Q2483,440 2483,444 L2483,465 Q2483,469 2487,469 L2590.5,469 Z" fill="#3479f2"/>
<path d="M2590.5,440 L2698.5,440 Q2702.5,440 2702.5,444 L2702.5,465 Q2702.5,469 2698.5,469 L2590.5,469 Z" fill="#3479f2"/>
<text x="2490" y="461.5" fill="#ffffff" textLength="92" lengthAdjust="spacingAndGlyphs">ETHUSDT</text>
<text x="2607.6" y="461.5" fill="#ffffff" textLength="86.4" lengthAdjust="spacingAndGlyphs">+35.89%</text>
<path d="M2590.5,473 L2487,473 Q2483,473 2483,477 L2483,497.5 Q2483,501.5 2487,501.5 L2590.5,501.5 Z" fill="#6ba583"/>
<path d="M2590.5,473 L2698.5,473 Q2702.5,473 2702.5,477 L2702.5,520.6 Q2702.5,524.6 2698.5,524.6 L2590.5,524.6 Z" fill="#6ba583"/>
<text x="2490" y="494.2" fill="#f4f4f4" textLength="92" lengthAdjust="spacingAndGlyphs">BTCUSDT</text>
<text x="2607.6" y="495.6" fill="#f4f4f4" textLength="86.4" lengthAdjust="spacingAndGlyphs">+32.42%</text>
<path d="M2590.5,525 L2487,525 Q2483,525 2483,529 L2483,549.6 Q2483,553.6 2487,553.6 L2590.5,553.6 Z" fill="#ff9800"/>
<path d="M2590.5,525 L2698.5,525 Q2702.5,525 2702.5,529 L2702.5,549.6 Q2702.5,553.6 2698.5,553.6 L2590.5,553.6 Z" fill="#ff9800"/>
<text x="2490" y="546.3" fill="#0a0a0a" textLength="92" lengthAdjust="spacingAndGlyphs">XRPUSDT</text>
<text x="2607.6" y="546.3" fill="#0a0a0a" textLength="86.4" lengthAdjust="spacingAndGlyphs">+28.18%</text>
<path d="M2590.5,591 L2487,591 Q2483,591 2483,595 L2483,616 Q2483,620 2487,620 L2590.5,620 Z" fill="#00c853"/>
<path d="M2590.5,591 L2698.5,591 Q2702.5,591 2702.5,595 L2702.5,616 Q2702.5,620 2698.5,620 L2590.5,620 Z" fill="#00c853"/>
<text x="2490" y="612.5" fill="#ffffff" textLength="92" lengthAdjust="spacingAndGlyphs">SOLUSDT</text>
<text x="2607.6" y="612.5" fill="#ffffff" textLength="86.4" lengthAdjust="spacingAndGlyphs">+20.08%</text>
<text x="2608" y="517.6" fill="#d5e6da" textLength="86" lengthAdjust="spacingAndGlyphs">14:28:56</text>
</g>
<g fill="#d9d9d9">
<path d="M21.3,1490.9 H43.0 V1517.6 H32.3 V1501.4 H21.3 Z"/>
<circle cx="52.1" cy="1496.1" r="5.2"/>
<path d="M62.7,1490.9 H75.5 L64.9,1517.6 H52.3 Z"/>
<rect x="87.9" y="1490.7" width="20.2" height="5.2"/>
<rect x="95.1" y="1490.7" width="5.9" height="27.1"/>
<path d="M108.1,1517.8 V1506.5 Q108.1,1497.7 116.5,1497.7 H119.9 V1503.4 H117.5 Q113.5,1503.4 113.5,1508.5 V1517.8 Z"/>
<rect x="135.2" y="1498.2" width="5.4" height="19.6"/>
<rect x="158.5" y="1490.7" width="5.4" height="27.1"/>
<rect x="167.2" y="1497.7" width="5.7" height="20.1"/>
<circle cx="170.1" cy="1492.8" r="3.3"/>
<rect x="247.0" y="1497.7" width="5.3" height="20.1"/>
<circle cx="249.6" cy="1493.0" r="3.4"/>
<polygon points="217.3,1490.7 223.9,1490.7 231.3,1509.6 238.1,1490.7 244.7,1490.7 234.8,1517.8 228.2,1517.8"/>
<polygon points="275.54,1498.20 281.44,1498.20 284.83,1509.27 288.27,1506.45 293.22,1506.45 296.61,1509.27 300.05,1498.20 305.94,1498.20 300.05,1517.76 293.93,1517.76 290.72,1509.98 287.09,1517.76 281.20,1517.76"/>
<rect x="258.5" y="1504.8" width="16.8" height="4.9"/>
</g>
<g fill="none" stroke="#d9d9d9" stroke-width="5.5">
<circle cx="130.5" cy="1507.6" r="7.6"/>
<circle cx="153.8" cy="1507.6" r="7.6"/>
<path d="M178.9,1517.8 V1507.5 A6.35,6.35 0 0 1 191.6,1507.5 V1517.8"/>
<circle cx="207.8" cy="1507.4" r="7.5"/>
<path d="M215.1,1498.2 V1516.5 Q215.1,1523.3 207.6,1523.3 Q202.3,1523.3 199.3,1520.3"/>
<path d="M272.9,1507.2 A7.5,7.5 0 1 0 271.6,1511.9"/>
</g>
</svg></body></html>
